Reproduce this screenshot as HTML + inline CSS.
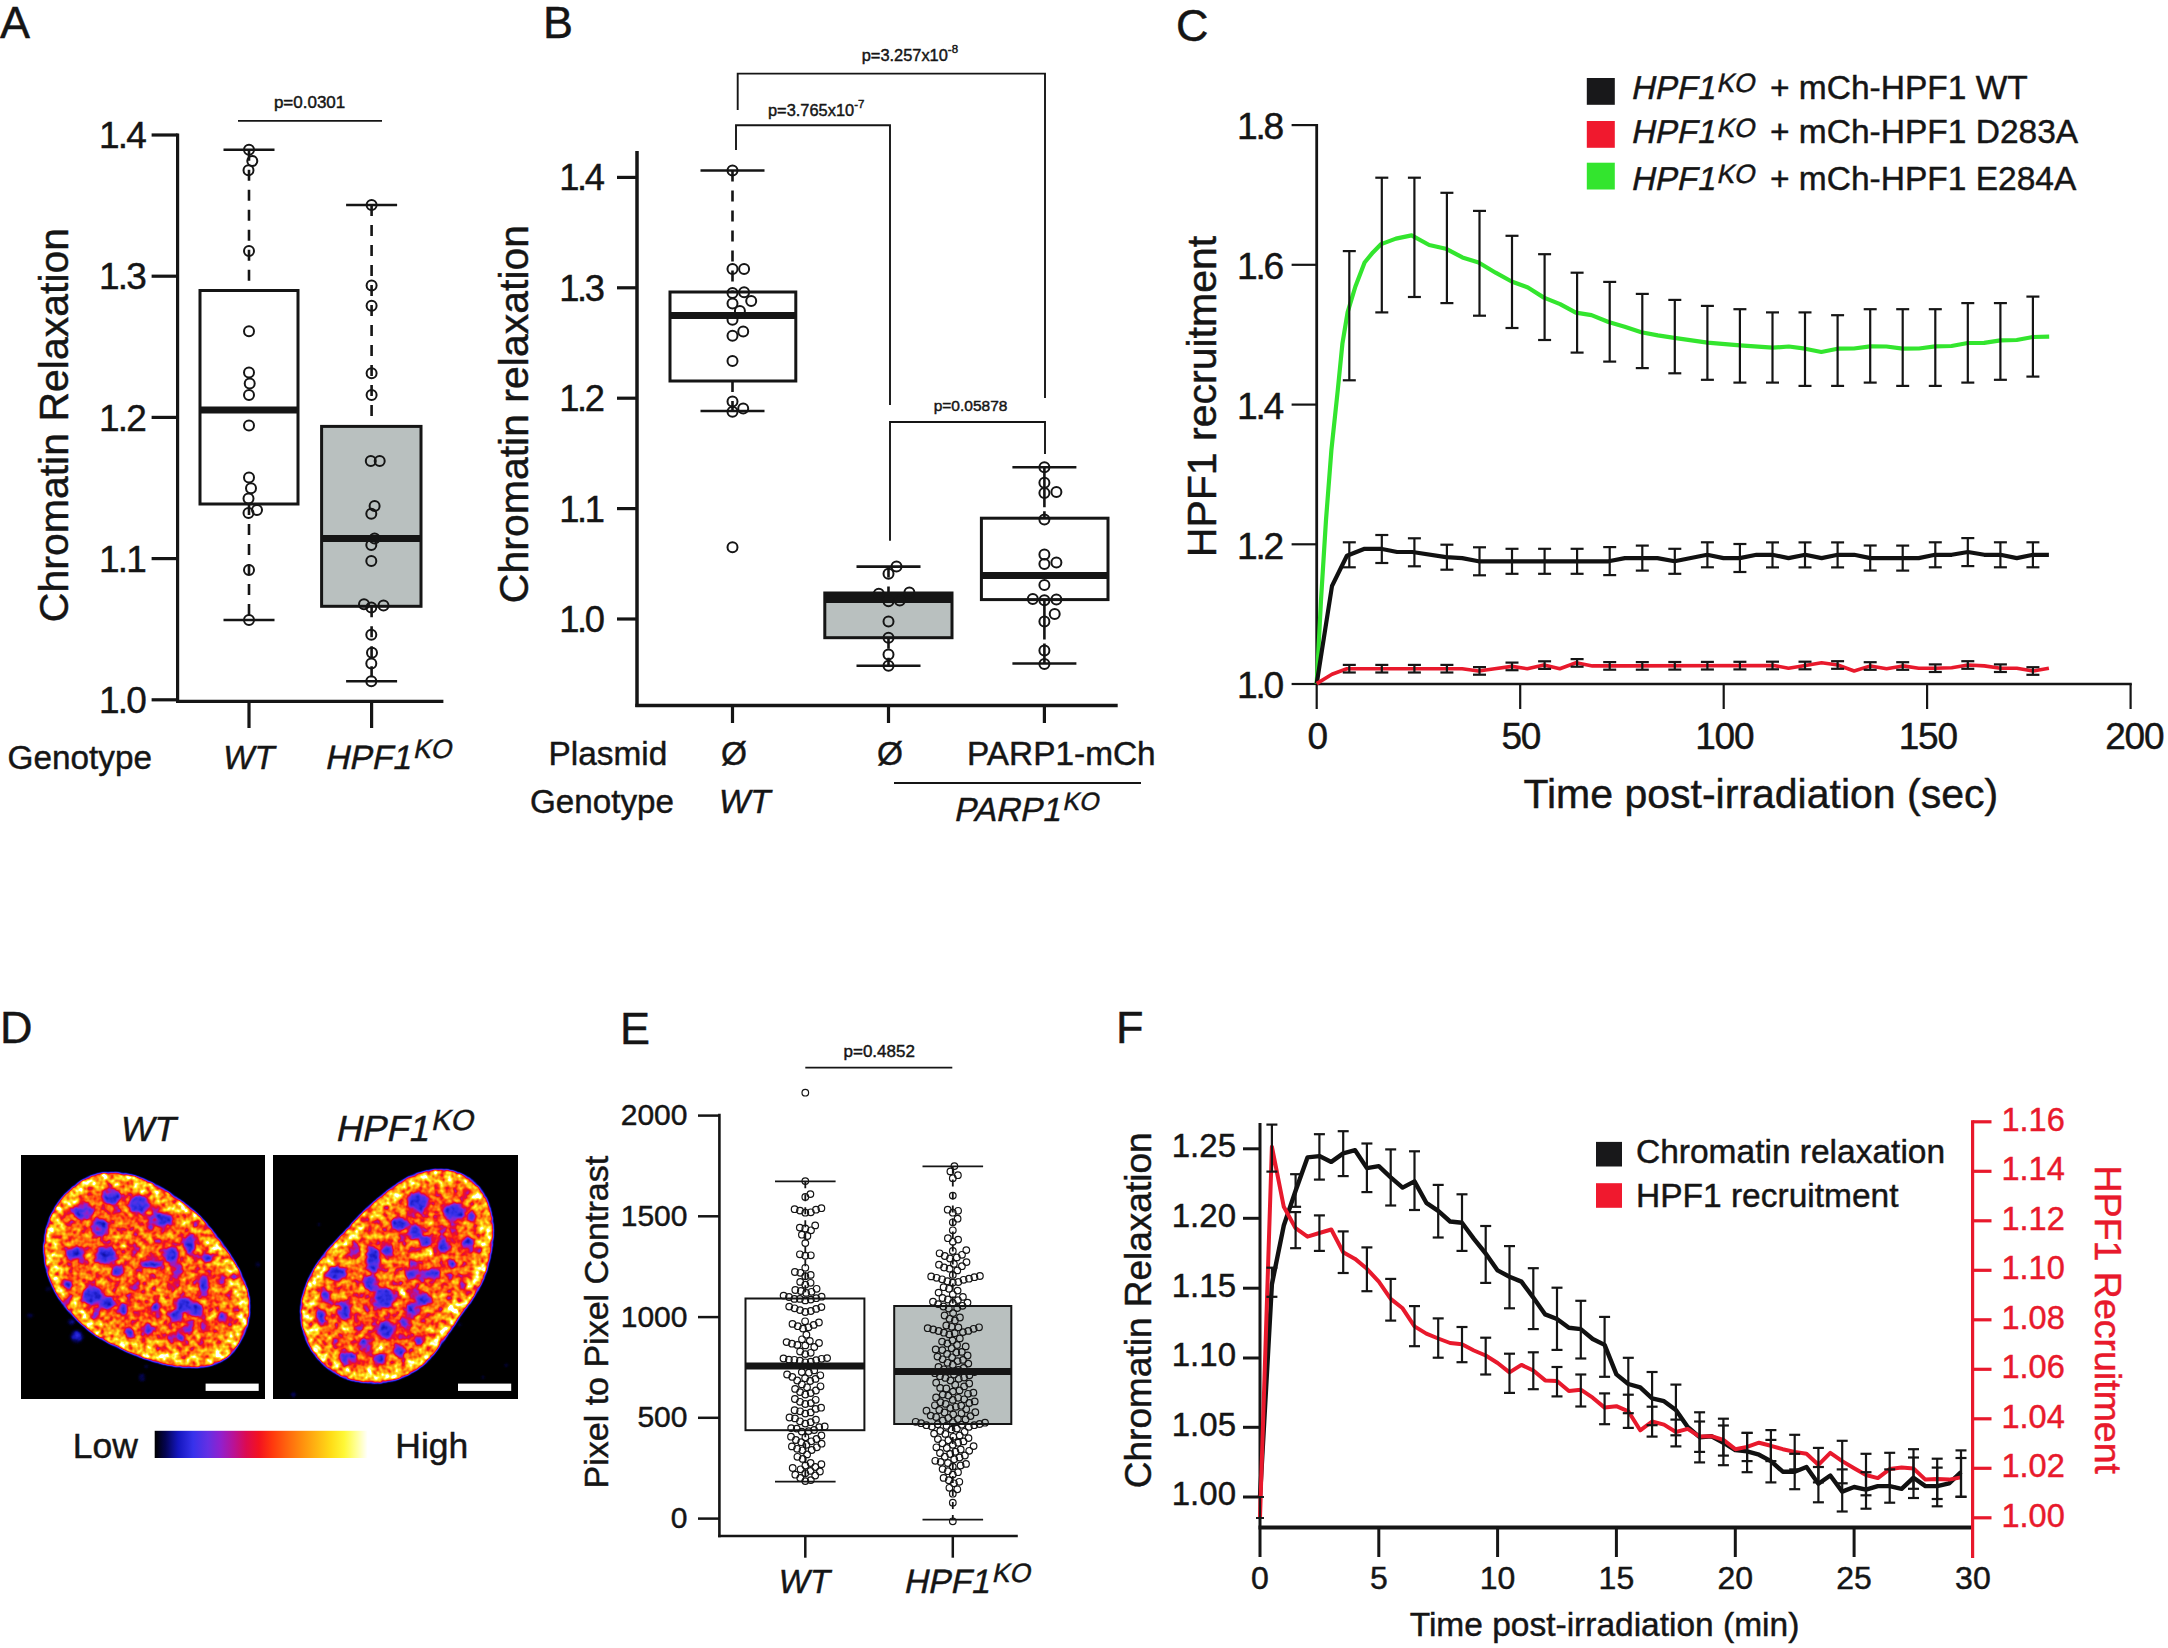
<!DOCTYPE html>
<html lang="en"><head><meta charset="utf-8"><title>Figure</title>
<style>
html,body{margin:0;padding:0;background:#fff;}
svg{display:block}
text{font-family:"Liberation Sans",sans-serif;stroke-width:0.45px;paint-order:stroke;}
</style></head><body>
<svg width="2168" height="1648" viewBox="0 0 2168 1648">
<rect width="2168" height="1648" fill="#fff"/>

<text x="0.0" y="38.2" font-size="45" text-anchor="start" fill="#151515" stroke="#151515"  >A</text>
<text x="543.0" y="38.2" font-size="45" text-anchor="start" fill="#151515" stroke="#151515"  >B</text>
<text x="1176.0" y="41.0" font-size="45" text-anchor="start" fill="#151515" stroke="#151515"  >C</text>
<text x="0.0" y="1042.5" font-size="45" text-anchor="start" fill="#151515" stroke="#151515"  >D</text>
<text x="620.0" y="1043.6" font-size="45" text-anchor="start" fill="#151515" stroke="#151515"  >E</text>
<text x="1116.0" y="1043.3" font-size="45" text-anchor="start" fill="#151515" stroke="#151515"  >F</text>
<g id="panelA">
<line x1="177.6" y1="133.5" x2="177.6" y2="703.0" stroke="#151515" stroke-width="3.2" />
<line x1="176.0" y1="701.4" x2="443.4" y2="701.4" stroke="#151515" stroke-width="3.2" />
<line x1="151.6" y1="699.8" x2="177.6" y2="699.8" stroke="#151515" stroke-width="3.2" />
<text x="145.0" y="713.0" font-size="37" text-anchor="end" fill="#151515" stroke="#151515"   letter-spacing="-1.8">1.0</text>
<line x1="151.6" y1="558.6" x2="177.6" y2="558.6" stroke="#151515" stroke-width="3.2" />
<text x="145.0" y="571.8" font-size="37" text-anchor="end" fill="#151515" stroke="#151515"   letter-spacing="-1.8">1.1</text>
<line x1="151.6" y1="417.4" x2="177.6" y2="417.4" stroke="#151515" stroke-width="3.2" />
<text x="145.0" y="430.6" font-size="37" text-anchor="end" fill="#151515" stroke="#151515"   letter-spacing="-1.8">1.2</text>
<line x1="151.6" y1="276.2" x2="177.6" y2="276.2" stroke="#151515" stroke-width="3.2" />
<text x="145.0" y="289.4" font-size="37" text-anchor="end" fill="#151515" stroke="#151515"   letter-spacing="-1.8">1.3</text>
<line x1="151.6" y1="135.0" x2="177.6" y2="135.0" stroke="#151515" stroke-width="3.2" />
<text x="145.0" y="148.2" font-size="37" text-anchor="end" fill="#151515" stroke="#151515"   letter-spacing="-1.8">1.4</text>
<line x1="249.0" y1="701.0" x2="249.0" y2="728.0" stroke="#151515" stroke-width="3.2" />
<line x1="371.6" y1="701.0" x2="371.6" y2="728.0" stroke="#151515" stroke-width="3.2" />
<line x1="249.0" y1="149.8" x2="249.0" y2="290.5" stroke="#151515" stroke-width="2.6" stroke-dasharray="11 9"/>
<line x1="249.0" y1="504.0" x2="249.0" y2="620.0" stroke="#151515" stroke-width="2.6" stroke-dasharray="11 9"/>
<line x1="223.5" y1="149.8" x2="274.5" y2="149.8" stroke="#151515" stroke-width="2.6" />
<line x1="223.5" y1="620.0" x2="274.5" y2="620.0" stroke="#151515" stroke-width="2.6" />
<rect x="200.0" y="290.5" width="98.0" height="213.5" fill="#fff" stroke="#151515" stroke-width="3"/>
<line x1="200.0" y1="410.0" x2="298.0" y2="410.0" stroke="#151515" stroke-width="7" />
<line x1="371.6" y1="205.0" x2="371.6" y2="426.4" stroke="#151515" stroke-width="2.6" stroke-dasharray="11 9"/>
<line x1="371.6" y1="606.3" x2="371.6" y2="681.2" stroke="#151515" stroke-width="2.6" stroke-dasharray="11 9"/>
<line x1="346.1" y1="205.0" x2="397.1" y2="205.0" stroke="#151515" stroke-width="2.6" />
<line x1="346.1" y1="681.2" x2="397.1" y2="681.2" stroke="#151515" stroke-width="2.6" />
<rect x="321.6" y="426.4" width="99.4" height="179.9" fill="#b9c0bf" stroke="#151515" stroke-width="3"/>
<line x1="321.6" y1="538.5" x2="421.0" y2="538.5" stroke="#151515" stroke-width="7" />
<circle cx="249.0" cy="149.8" r="5.0" fill="none" stroke="#151515" stroke-width="2.0"/>
<circle cx="252.3" cy="161.0" r="5.0" fill="none" stroke="#151515" stroke-width="2.0"/>
<circle cx="248.5" cy="170.2" r="5.0" fill="none" stroke="#151515" stroke-width="2.0"/>
<circle cx="249.0" cy="251.0" r="5.0" fill="none" stroke="#151515" stroke-width="2.0"/>
<circle cx="249.0" cy="331.3" r="5.0" fill="none" stroke="#151515" stroke-width="2.0"/>
<circle cx="249.0" cy="372.6" r="5.0" fill="none" stroke="#151515" stroke-width="2.0"/>
<circle cx="249.7" cy="383.5" r="5.0" fill="none" stroke="#151515" stroke-width="2.0"/>
<circle cx="249.0" cy="395.0" r="5.0" fill="none" stroke="#151515" stroke-width="2.0"/>
<circle cx="249.0" cy="425.4" r="5.0" fill="none" stroke="#151515" stroke-width="2.0"/>
<circle cx="249.0" cy="477.6" r="5.0" fill="none" stroke="#151515" stroke-width="2.0"/>
<circle cx="251.0" cy="488.3" r="5.0" fill="none" stroke="#151515" stroke-width="2.0"/>
<circle cx="248.5" cy="498.5" r="5.0" fill="none" stroke="#151515" stroke-width="2.0"/>
<circle cx="257.0" cy="510.0" r="5.0" fill="none" stroke="#151515" stroke-width="2.0"/>
<circle cx="248.5" cy="513.0" r="5.0" fill="none" stroke="#151515" stroke-width="2.0"/>
<circle cx="249.0" cy="569.9" r="5.0" fill="none" stroke="#151515" stroke-width="2.0"/>
<circle cx="249.0" cy="620.0" r="5.0" fill="none" stroke="#151515" stroke-width="2.0"/>
<circle cx="371.6" cy="205.1" r="5.0" fill="none" stroke="#151515" stroke-width="2.0"/>
<circle cx="371.6" cy="285.4" r="5.0" fill="none" stroke="#151515" stroke-width="2.0"/>
<circle cx="371.6" cy="305.8" r="5.0" fill="none" stroke="#151515" stroke-width="2.0"/>
<circle cx="371.6" cy="373.3" r="5.0" fill="none" stroke="#151515" stroke-width="2.0"/>
<circle cx="371.6" cy="395.0" r="5.0" fill="none" stroke="#151515" stroke-width="2.0"/>
<circle cx="370.8" cy="461.0" r="5.0" fill="none" stroke="#151515" stroke-width="2.0"/>
<circle cx="379.7" cy="461.0" r="5.0" fill="none" stroke="#151515" stroke-width="2.0"/>
<circle cx="374.6" cy="506.1" r="5.0" fill="none" stroke="#151515" stroke-width="2.0"/>
<circle cx="371.3" cy="513.8" r="5.0" fill="none" stroke="#151515" stroke-width="2.0"/>
<circle cx="374.6" cy="538.5" r="5.0" fill="none" stroke="#151515" stroke-width="2.0"/>
<circle cx="371.3" cy="545.0" r="5.0" fill="none" stroke="#151515" stroke-width="2.0"/>
<circle cx="371.3" cy="561.0" r="5.0" fill="none" stroke="#151515" stroke-width="2.0"/>
<circle cx="364.0" cy="604.3" r="5.0" fill="none" stroke="#151515" stroke-width="2.0"/>
<circle cx="371.3" cy="607.6" r="5.0" fill="none" stroke="#151515" stroke-width="2.0"/>
<circle cx="383.5" cy="605.5" r="5.0" fill="none" stroke="#151515" stroke-width="2.0"/>
<circle cx="371.3" cy="634.8" r="5.0" fill="none" stroke="#151515" stroke-width="2.0"/>
<circle cx="372.0" cy="652.7" r="5.0" fill="none" stroke="#151515" stroke-width="2.0"/>
<circle cx="371.3" cy="663.4" r="5.0" fill="none" stroke="#151515" stroke-width="2.0"/>
<circle cx="371.3" cy="681.2" r="5.0" fill="none" stroke="#151515" stroke-width="2.0"/>
<text x="309.6" y="108.3" font-size="17" text-anchor="middle" fill="#151515" stroke="#151515"  >p=0.0301</text>
<line x1="238.0" y1="120.8" x2="382.0" y2="120.8" stroke="#151515" stroke-width="1.8" />
<text transform="translate(68.3,425.0) rotate(-90)" font-size="41" text-anchor="middle" fill="#151515" stroke="#151515">Chromatin Relaxation</text>
<text x="7.6" y="768.6" font-size="33.3" text-anchor="start" fill="#151515" stroke="#151515"  >Genotype</text>
<text x="249.0" y="768.6" font-size="33" text-anchor="middle" fill="#151515" stroke="#151515" font-style="italic" >WT</text>
<g transform="translate(324.5,768.6) skewX(-12)"><text x="0" y="0" font-size="33.7" fill="#151515" stroke="#151515">HPF1<tspan dx="0.0" dy="-10.4" font-size="26.6">KO</tspan></text></g>
</g>
<g id="panelB">
<line x1="637.0" y1="151.0" x2="637.0" y2="707.0" stroke="#151515" stroke-width="3.5" />
<line x1="635.3" y1="705.5" x2="1117.7" y2="705.5" stroke="#151515" stroke-width="3.5" />
<line x1="617.0" y1="619.0" x2="637.0" y2="619.0" stroke="#151515" stroke-width="3.2" />
<text x="602.5" y="632.0" font-size="36.3" text-anchor="end" fill="#151515" stroke="#151515"   letter-spacing="-2.4">1.0</text>
<line x1="617.0" y1="508.6" x2="637.0" y2="508.6" stroke="#151515" stroke-width="3.2" />
<text x="602.5" y="521.6" font-size="36.3" text-anchor="end" fill="#151515" stroke="#151515"   letter-spacing="-2.4">1.1</text>
<line x1="617.0" y1="398.2" x2="637.0" y2="398.2" stroke="#151515" stroke-width="3.2" />
<text x="602.5" y="411.2" font-size="36.3" text-anchor="end" fill="#151515" stroke="#151515"   letter-spacing="-2.4">1.2</text>
<line x1="617.0" y1="287.8" x2="637.0" y2="287.8" stroke="#151515" stroke-width="3.2" />
<text x="602.5" y="300.8" font-size="36.3" text-anchor="end" fill="#151515" stroke="#151515"   letter-spacing="-2.4">1.3</text>
<line x1="617.0" y1="177.4" x2="637.0" y2="177.4" stroke="#151515" stroke-width="3.2" />
<text x="602.5" y="190.4" font-size="36.3" text-anchor="end" fill="#151515" stroke="#151515"   letter-spacing="-2.4">1.4</text>
<line x1="732.5" y1="705.5" x2="732.5" y2="723.0" stroke="#151515" stroke-width="3.2" />
<line x1="888.5" y1="705.5" x2="888.5" y2="723.0" stroke="#151515" stroke-width="3.2" />
<line x1="1044.4" y1="705.5" x2="1044.4" y2="723.0" stroke="#151515" stroke-width="3.2" />
<line x1="732.5" y1="170.5" x2="732.5" y2="292.0" stroke="#151515" stroke-width="2.6" stroke-dasharray="11 9"/>
<line x1="732.5" y1="381.0" x2="732.5" y2="411.0" stroke="#151515" stroke-width="2.6" stroke-dasharray="11 9"/>
<line x1="700.5" y1="170.5" x2="764.5" y2="170.5" stroke="#151515" stroke-width="2.6" />
<line x1="700.5" y1="411.0" x2="764.5" y2="411.0" stroke="#151515" stroke-width="2.6" />
<rect x="670.0" y="292.0" width="125.8" height="89.0" fill="#fff" stroke="#151515" stroke-width="3"/>
<line x1="670.0" y1="315.5" x2="795.8" y2="315.5" stroke="#151515" stroke-width="7" />
<line x1="888.5" y1="566.6" x2="888.5" y2="593.0" stroke="#151515" stroke-width="2.6" stroke-dasharray="11 9"/>
<line x1="888.5" y1="637.7" x2="888.5" y2="665.8" stroke="#151515" stroke-width="2.6" stroke-dasharray="11 9"/>
<line x1="856.5" y1="566.6" x2="920.5" y2="566.6" stroke="#151515" stroke-width="2.6" />
<line x1="856.5" y1="665.8" x2="920.5" y2="665.8" stroke="#151515" stroke-width="2.6" />
<rect x="824.8" y="593.0" width="127.2" height="44.7" fill="#b9c0bf" stroke="#151515" stroke-width="3"/>
<line x1="824.8" y1="598.5" x2="952.0" y2="598.5" stroke="#151515" stroke-width="9" />
<line x1="1044.4" y1="467.2" x2="1044.4" y2="518.2" stroke="#151515" stroke-width="2.6" stroke-dasharray="40 4"/>
<line x1="1044.4" y1="599.6" x2="1044.4" y2="663.5" stroke="#151515" stroke-width="2.6" stroke-dasharray="40 4"/>
<line x1="1012.4" y1="467.2" x2="1076.4" y2="467.2" stroke="#151515" stroke-width="2.6" />
<line x1="1012.4" y1="663.5" x2="1076.4" y2="663.5" stroke="#151515" stroke-width="2.6" />
<rect x="981.4" y="518.2" width="126.6" height="81.4" fill="#fff" stroke="#151515" stroke-width="3"/>
<line x1="981.4" y1="575.4" x2="1108.0" y2="575.4" stroke="#151515" stroke-width="7" />
<circle cx="732.5" cy="170.5" r="5.0" fill="none" stroke="#151515" stroke-width="2.0"/>
<circle cx="732.5" cy="269.0" r="5.0" fill="none" stroke="#151515" stroke-width="2.0"/>
<circle cx="744.1" cy="269.0" r="5.0" fill="none" stroke="#151515" stroke-width="2.0"/>
<circle cx="732.5" cy="292.9" r="5.0" fill="none" stroke="#151515" stroke-width="2.0"/>
<circle cx="744.1" cy="292.2" r="5.0" fill="none" stroke="#151515" stroke-width="2.0"/>
<circle cx="751.2" cy="301.0" r="5.0" fill="none" stroke="#151515" stroke-width="2.0"/>
<circle cx="732.5" cy="303.5" r="5.0" fill="none" stroke="#151515" stroke-width="2.0"/>
<circle cx="739.9" cy="311.0" r="5.0" fill="none" stroke="#151515" stroke-width="2.0"/>
<circle cx="732.5" cy="319.7" r="5.0" fill="none" stroke="#151515" stroke-width="2.0"/>
<circle cx="743.2" cy="331.6" r="5.0" fill="none" stroke="#151515" stroke-width="2.0"/>
<circle cx="732.5" cy="335.8" r="5.0" fill="none" stroke="#151515" stroke-width="2.0"/>
<circle cx="732.5" cy="361.0" r="5.0" fill="none" stroke="#151515" stroke-width="2.0"/>
<circle cx="732.5" cy="401.4" r="5.0" fill="none" stroke="#151515" stroke-width="2.0"/>
<circle cx="743.2" cy="408.5" r="5.0" fill="none" stroke="#151515" stroke-width="2.0"/>
<circle cx="732.5" cy="411.7" r="5.0" fill="none" stroke="#151515" stroke-width="2.0"/>
<circle cx="732.5" cy="547.3" r="5.0" fill="none" stroke="#151515" stroke-width="2.0"/>
<circle cx="896.5" cy="566.6" r="5.0" fill="none" stroke="#151515" stroke-width="2.0"/>
<circle cx="888.5" cy="573.7" r="5.0" fill="none" stroke="#151515" stroke-width="2.0"/>
<circle cx="878.8" cy="593.8" r="5.0" fill="none" stroke="#151515" stroke-width="2.0"/>
<circle cx="909.4" cy="592.5" r="5.0" fill="none" stroke="#151515" stroke-width="2.0"/>
<circle cx="888.5" cy="601.2" r="5.0" fill="none" stroke="#151515" stroke-width="2.0"/>
<circle cx="899.8" cy="600.5" r="5.0" fill="none" stroke="#151515" stroke-width="2.0"/>
<circle cx="888.5" cy="621.5" r="5.0" fill="none" stroke="#151515" stroke-width="2.0"/>
<circle cx="888.5" cy="637.7" r="5.0" fill="none" stroke="#151515" stroke-width="2.0"/>
<circle cx="888.5" cy="654.5" r="5.0" fill="none" stroke="#151515" stroke-width="2.0"/>
<circle cx="888.5" cy="665.8" r="5.0" fill="none" stroke="#151515" stroke-width="2.0"/>
<circle cx="1044.4" cy="467.2" r="5.0" fill="none" stroke="#151515" stroke-width="2.0"/>
<circle cx="1044.4" cy="482.7" r="5.0" fill="none" stroke="#151515" stroke-width="2.0"/>
<circle cx="1044.4" cy="493.0" r="5.0" fill="none" stroke="#151515" stroke-width="2.0"/>
<circle cx="1056.4" cy="492.0" r="5.0" fill="none" stroke="#151515" stroke-width="2.0"/>
<circle cx="1044.4" cy="519.5" r="5.0" fill="none" stroke="#151515" stroke-width="2.0"/>
<circle cx="1044.4" cy="554.4" r="5.0" fill="none" stroke="#151515" stroke-width="2.0"/>
<circle cx="1044.4" cy="564.0" r="5.0" fill="none" stroke="#151515" stroke-width="2.0"/>
<circle cx="1056.4" cy="562.4" r="5.0" fill="none" stroke="#151515" stroke-width="2.0"/>
<circle cx="1044.4" cy="585.0" r="5.0" fill="none" stroke="#151515" stroke-width="2.0"/>
<circle cx="1032.8" cy="598.9" r="5.0" fill="none" stroke="#151515" stroke-width="2.0"/>
<circle cx="1044.4" cy="600.2" r="5.0" fill="none" stroke="#151515" stroke-width="2.0"/>
<circle cx="1056.4" cy="599.6" r="5.0" fill="none" stroke="#151515" stroke-width="2.0"/>
<circle cx="1054.7" cy="614.1" r="5.0" fill="none" stroke="#151515" stroke-width="2.0"/>
<circle cx="1044.4" cy="621.5" r="5.0" fill="none" stroke="#151515" stroke-width="2.0"/>
<circle cx="1044.4" cy="650.6" r="5.0" fill="none" stroke="#151515" stroke-width="2.0"/>
<circle cx="1044.4" cy="664.1" r="5.0" fill="none" stroke="#151515" stroke-width="2.0"/>
<polyline fill="none" stroke="#151515" stroke-width="1.9" points="736.0,150.0 736.0,125.3 890.0,125.3 890.0,405.0"/>
<polyline fill="none" stroke="#151515" stroke-width="1.9" points="737.7,110.0 737.7,73.6 1045.0,73.6 1045.0,398.0"/>
<polyline fill="none" stroke="#151515" stroke-width="1.9" points="890.0,540.8 890.0,422.0 1045.0,422.0 1045.0,454.0"/>
<text x="861.7" y="61.4" font-size="16.4" fill="#151515" stroke="#151515">p=3.257x10<tspan dy="-8" font-size="11.5">-8</tspan></text>
<text x="768.0" y="116.0" font-size="16.4" fill="#151515" stroke="#151515">p=3.765x10<tspan dy="-8" font-size="11.5">-7</tspan></text>
<text x="933.7" y="410.7" font-size="15.5" text-anchor="start" fill="#151515" stroke="#151515"  >p=0.05878</text>
<text transform="translate(528.0,414.0) rotate(-90)" font-size="41" text-anchor="middle" fill="#151515" stroke="#151515">Chromatin relaxation</text>
<text x="548.5" y="765.0" font-size="33.4" text-anchor="start" fill="#151515" stroke="#151515"  >Plasmid</text>
<text x="734.0" y="765.0" font-size="33.4" text-anchor="middle" fill="#151515" stroke="#151515"  >Ø</text>
<text x="890.0" y="765.0" font-size="33.4" text-anchor="middle" fill="#151515" stroke="#151515"  >Ø</text>
<text x="967.0" y="765.0" font-size="33.4" text-anchor="start" fill="#151515" stroke="#151515"  >PARP1-mCh</text>
<line x1="894.0" y1="783.0" x2="1141.0" y2="783.0" stroke="#151515" stroke-width="1.9" />
<text x="530.0" y="812.7" font-size="33.2" text-anchor="start" fill="#151515" stroke="#151515"  >Genotype</text>
<text x="744.8" y="812.7" font-size="33.3" text-anchor="middle" fill="#151515" stroke="#151515" font-style="italic" >WT</text>
<g transform="translate(953.5,820.7) skewX(-12)"><text x="0" y="0" font-size="33.3" fill="#151515" stroke="#151515">PARP1<tspan dx="0.0" dy="-10.3" font-size="25.0">KO</tspan></text></g>
</g>
<g id="panelC">
<line x1="1316.7" y1="123.9" x2="1316.7" y2="685.0" stroke="#151515" stroke-width="2.8" />
<line x1="1316.7" y1="684.0" x2="2131.8" y2="684.0" stroke="#151515" stroke-width="2.4" />
<line x1="1291.6" y1="684.0" x2="1316.7" y2="684.0" stroke="#151515" stroke-width="2.2" />
<text x="1281.8" y="698.2" font-size="37.2" text-anchor="end" fill="#151515" stroke="#151515"   letter-spacing="-2.3">1.0</text>
<line x1="1291.6" y1="544.3" x2="1316.7" y2="544.3" stroke="#151515" stroke-width="2.2" />
<text x="1281.8" y="558.5" font-size="37.2" text-anchor="end" fill="#151515" stroke="#151515"   letter-spacing="-2.3">1.2</text>
<line x1="1291.6" y1="404.6" x2="1316.7" y2="404.6" stroke="#151515" stroke-width="2.2" />
<text x="1281.8" y="418.8" font-size="37.2" text-anchor="end" fill="#151515" stroke="#151515"   letter-spacing="-2.3">1.4</text>
<line x1="1291.6" y1="264.8" x2="1316.7" y2="264.8" stroke="#151515" stroke-width="2.2" />
<text x="1281.8" y="279.0" font-size="37.2" text-anchor="end" fill="#151515" stroke="#151515"   letter-spacing="-2.3">1.6</text>
<line x1="1291.6" y1="125.1" x2="1316.7" y2="125.1" stroke="#151515" stroke-width="2.2" />
<text x="1281.8" y="139.3" font-size="37.2" text-anchor="end" fill="#151515" stroke="#151515"   letter-spacing="-2.3">1.8</text>
<line x1="1316.7" y1="684.0" x2="1316.7" y2="709.0" stroke="#151515" stroke-width="2.2" />
<text x="1317.3" y="749.0" font-size="37" text-anchor="middle" fill="#151515" stroke="#151515"   letter-spacing="-1.2">0</text>
<line x1="1520.2" y1="684.0" x2="1520.2" y2="709.0" stroke="#151515" stroke-width="2.2" />
<text x="1520.8" y="749.0" font-size="37" text-anchor="middle" fill="#151515" stroke="#151515"   letter-spacing="-1.2">50</text>
<line x1="1723.7" y1="684.0" x2="1723.7" y2="709.0" stroke="#151515" stroke-width="2.2" />
<text x="1724.2" y="749.0" font-size="37" text-anchor="middle" fill="#151515" stroke="#151515"   letter-spacing="-1.2">100</text>
<line x1="1927.1" y1="684.0" x2="1927.1" y2="709.0" stroke="#151515" stroke-width="2.2" />
<text x="1927.7" y="749.0" font-size="37" text-anchor="middle" fill="#151515" stroke="#151515"   letter-spacing="-1.2">150</text>
<line x1="2130.6" y1="684.0" x2="2130.6" y2="709.0" stroke="#151515" stroke-width="2.2" />
<text x="2134.2" y="749.0" font-size="37" text-anchor="middle" fill="#151515" stroke="#151515"   letter-spacing="-1.2">200</text>
<text x="1760.8" y="808.0" font-size="41" text-anchor="middle" fill="#151515" stroke="#151515"  >Time post-irradiation (sec)</text>
<text transform="translate(1215.8,396.5) rotate(-90)" font-size="41" text-anchor="middle" fill="#151515" stroke="#151515">HPF1 recruitment</text>
<rect x="1586.8" y="78" width="28" height="26.8" fill="#18181a"/>
<rect x="1586.8" y="121" width="28" height="26.8" fill="#f0192e"/>
<rect x="1586.8" y="162.7" width="28" height="26.8" fill="#33e52e"/>
<g transform="translate(1630.5,98.6) skewX(-12)"><text x="0" y="0" font-size="33" fill="#151515" stroke="#151515">HPF1<tspan dx="0.0" dy="-6.6" font-size="26.4">KO</tspan></text></g>
<text x="1770.0" y="98.6" font-size="33.5" text-anchor="start" fill="#151515" stroke="#151515"  >+ mCh-HPF1 WT</text>
<g transform="translate(1630.5,143.2) skewX(-12)"><text x="0" y="0" font-size="33" fill="#151515" stroke="#151515">HPF1<tspan dx="0.0" dy="-6.6" font-size="26.4">KO</tspan></text></g>
<text x="1770.0" y="143.2" font-size="33.5" text-anchor="start" fill="#151515" stroke="#151515"  >+ mCh-HPF1 D283A</text>
<g transform="translate(1630.5,189.7) skewX(-12)"><text x="0" y="0" font-size="33" fill="#151515" stroke="#151515">HPF1<tspan dx="0.0" dy="-6.6" font-size="26.4">KO</tspan></text></g>
<text x="1770.0" y="189.7" font-size="33.5" text-anchor="start" fill="#151515" stroke="#151515"  >+ mCh-HPF1 E284A</text>
<polyline fill="none" stroke="#33e52e" stroke-width="4.2" stroke-linejoin="round" stroke-linecap="butt" points="1316.7,684.0 1321.0,600.0 1326.0,520.0 1331.4,450.0 1337.8,389.9 1342.4,343.7 1347.6,312.4 1355.4,286.5 1364.6,262.5 1372.9,252.4 1381.2,244.1 1395.9,238.6 1411.6,235.4 1429.2,245.0 1445.8,248.7 1462.4,257.4 1478.6,262.5 1495.6,272.7 1511.6,281.5 1527.9,287.5 1543.9,297.6 1560.1,304.1 1575.8,312.7 1591.5,315.1 1608.5,322.0 1624.7,326.8 1641.3,332.3 1657.9,335.4 1674.2,337.8 1707.4,342.6 1739.9,345.4 1772.5,347.7 1788.8,346.5 1805.0,348.7 1821.3,352.0 1837.6,348.7 1853.9,348.5 1870.2,346.4 1886.4,346.5 1902.7,348.7 1919.0,348.5 1935.3,346.4 1951.5,346.0 1967.8,343.0 1984.1,342.8 2000.4,340.3 2016.7,340.0 2032.9,337.0 2049.2,336.6"/>
<line x1="1349.3" y1="251.1" x2="1349.3" y2="380.3" stroke="#151515" stroke-width="2.2" />
<line x1="1342.8" y1="251.1" x2="1355.8" y2="251.1" stroke="#151515" stroke-width="2.2" />
<line x1="1342.8" y1="380.3" x2="1355.8" y2="380.3" stroke="#151515" stroke-width="2.2" />
<line x1="1381.8" y1="177.7" x2="1381.8" y2="312.4" stroke="#151515" stroke-width="2.2" />
<line x1="1375.3" y1="177.7" x2="1388.3" y2="177.7" stroke="#151515" stroke-width="2.2" />
<line x1="1375.3" y1="312.4" x2="1388.3" y2="312.4" stroke="#151515" stroke-width="2.2" />
<line x1="1414.4" y1="177.7" x2="1414.4" y2="297.0" stroke="#151515" stroke-width="2.2" />
<line x1="1407.9" y1="177.7" x2="1420.9" y2="177.7" stroke="#151515" stroke-width="2.2" />
<line x1="1407.9" y1="297.0" x2="1420.9" y2="297.0" stroke="#151515" stroke-width="2.2" />
<line x1="1446.9" y1="192.8" x2="1446.9" y2="303.1" stroke="#151515" stroke-width="2.2" />
<line x1="1440.4" y1="192.8" x2="1453.4" y2="192.8" stroke="#151515" stroke-width="2.2" />
<line x1="1440.4" y1="303.1" x2="1453.4" y2="303.1" stroke="#151515" stroke-width="2.2" />
<line x1="1479.5" y1="210.9" x2="1479.5" y2="315.7" stroke="#151515" stroke-width="2.2" />
<line x1="1473.0" y1="210.9" x2="1486.0" y2="210.9" stroke="#151515" stroke-width="2.2" />
<line x1="1473.0" y1="315.7" x2="1486.0" y2="315.7" stroke="#151515" stroke-width="2.2" />
<line x1="1512.0" y1="235.8" x2="1512.0" y2="328.0" stroke="#151515" stroke-width="2.2" />
<line x1="1505.5" y1="235.8" x2="1518.5" y2="235.8" stroke="#151515" stroke-width="2.2" />
<line x1="1505.5" y1="328.0" x2="1518.5" y2="328.0" stroke="#151515" stroke-width="2.2" />
<line x1="1544.6" y1="254.2" x2="1544.6" y2="340.0" stroke="#151515" stroke-width="2.2" />
<line x1="1538.1" y1="254.2" x2="1551.1" y2="254.2" stroke="#151515" stroke-width="2.2" />
<line x1="1538.1" y1="340.0" x2="1551.1" y2="340.0" stroke="#151515" stroke-width="2.2" />
<line x1="1577.1" y1="272.7" x2="1577.1" y2="352.6" stroke="#151515" stroke-width="2.2" />
<line x1="1570.6" y1="272.7" x2="1583.6" y2="272.7" stroke="#151515" stroke-width="2.2" />
<line x1="1570.6" y1="352.6" x2="1583.6" y2="352.6" stroke="#151515" stroke-width="2.2" />
<line x1="1609.7" y1="281.9" x2="1609.7" y2="361.6" stroke="#151515" stroke-width="2.2" />
<line x1="1603.2" y1="281.9" x2="1616.2" y2="281.9" stroke="#151515" stroke-width="2.2" />
<line x1="1603.2" y1="361.6" x2="1616.2" y2="361.6" stroke="#151515" stroke-width="2.2" />
<line x1="1642.3" y1="293.9" x2="1642.3" y2="368.1" stroke="#151515" stroke-width="2.2" />
<line x1="1635.8" y1="293.9" x2="1648.8" y2="293.9" stroke="#151515" stroke-width="2.2" />
<line x1="1635.8" y1="368.1" x2="1648.8" y2="368.1" stroke="#151515" stroke-width="2.2" />
<line x1="1674.8" y1="299.9" x2="1674.8" y2="373.3" stroke="#151515" stroke-width="2.2" />
<line x1="1668.3" y1="299.9" x2="1681.3" y2="299.9" stroke="#151515" stroke-width="2.2" />
<line x1="1668.3" y1="373.3" x2="1681.3" y2="373.3" stroke="#151515" stroke-width="2.2" />
<line x1="1707.4" y1="305.9" x2="1707.4" y2="379.8" stroke="#151515" stroke-width="2.2" />
<line x1="1700.9" y1="305.9" x2="1713.9" y2="305.9" stroke="#151515" stroke-width="2.2" />
<line x1="1700.9" y1="379.8" x2="1713.9" y2="379.8" stroke="#151515" stroke-width="2.2" />
<line x1="1739.9" y1="309.2" x2="1739.9" y2="382.6" stroke="#151515" stroke-width="2.2" />
<line x1="1733.4" y1="309.2" x2="1746.4" y2="309.2" stroke="#151515" stroke-width="2.2" />
<line x1="1733.4" y1="382.6" x2="1746.4" y2="382.6" stroke="#151515" stroke-width="2.2" />
<line x1="1772.5" y1="312.4" x2="1772.5" y2="382.6" stroke="#151515" stroke-width="2.2" />
<line x1="1766.0" y1="312.4" x2="1779.0" y2="312.4" stroke="#151515" stroke-width="2.2" />
<line x1="1766.0" y1="382.6" x2="1779.0" y2="382.6" stroke="#151515" stroke-width="2.2" />
<line x1="1805.0" y1="312.4" x2="1805.0" y2="385.9" stroke="#151515" stroke-width="2.2" />
<line x1="1798.5" y1="312.4" x2="1811.5" y2="312.4" stroke="#151515" stroke-width="2.2" />
<line x1="1798.5" y1="385.9" x2="1811.5" y2="385.9" stroke="#151515" stroke-width="2.2" />
<line x1="1837.6" y1="315.2" x2="1837.6" y2="385.9" stroke="#151515" stroke-width="2.2" />
<line x1="1831.1" y1="315.2" x2="1844.1" y2="315.2" stroke="#151515" stroke-width="2.2" />
<line x1="1831.1" y1="385.9" x2="1844.1" y2="385.9" stroke="#151515" stroke-width="2.2" />
<line x1="1870.2" y1="309.2" x2="1870.2" y2="382.6" stroke="#151515" stroke-width="2.2" />
<line x1="1863.7" y1="309.2" x2="1876.7" y2="309.2" stroke="#151515" stroke-width="2.2" />
<line x1="1863.7" y1="382.6" x2="1876.7" y2="382.6" stroke="#151515" stroke-width="2.2" />
<line x1="1902.7" y1="309.2" x2="1902.7" y2="385.9" stroke="#151515" stroke-width="2.2" />
<line x1="1896.2" y1="309.2" x2="1909.2" y2="309.2" stroke="#151515" stroke-width="2.2" />
<line x1="1896.2" y1="385.9" x2="1909.2" y2="385.9" stroke="#151515" stroke-width="2.2" />
<line x1="1935.3" y1="309.2" x2="1935.3" y2="385.9" stroke="#151515" stroke-width="2.2" />
<line x1="1928.8" y1="309.2" x2="1941.8" y2="309.2" stroke="#151515" stroke-width="2.2" />
<line x1="1928.8" y1="385.9" x2="1941.8" y2="385.9" stroke="#151515" stroke-width="2.2" />
<line x1="1967.8" y1="303.1" x2="1967.8" y2="382.6" stroke="#151515" stroke-width="2.2" />
<line x1="1961.3" y1="303.1" x2="1974.3" y2="303.1" stroke="#151515" stroke-width="2.2" />
<line x1="1961.3" y1="382.6" x2="1974.3" y2="382.6" stroke="#151515" stroke-width="2.2" />
<line x1="2000.4" y1="303.1" x2="2000.4" y2="379.8" stroke="#151515" stroke-width="2.2" />
<line x1="1993.9" y1="303.1" x2="2006.9" y2="303.1" stroke="#151515" stroke-width="2.2" />
<line x1="1993.9" y1="379.8" x2="2006.9" y2="379.8" stroke="#151515" stroke-width="2.2" />
<line x1="2032.9" y1="296.6" x2="2032.9" y2="376.6" stroke="#151515" stroke-width="2.2" />
<line x1="2026.4" y1="296.6" x2="2039.4" y2="296.6" stroke="#151515" stroke-width="2.2" />
<line x1="2026.4" y1="376.6" x2="2039.4" y2="376.6" stroke="#151515" stroke-width="2.2" />
<polyline fill="none" stroke="#111" stroke-width="4.2" stroke-linejoin="round" stroke-linecap="butt" points="1316.7,683.6 1332.0,586.0 1346.9,555.7 1364.6,548.8 1380.8,548.8 1397.1,552.0 1412.4,552.0 1445.9,557.1 1462.2,558.1 1478.5,561.3 1511.9,561.3 1544.0,561.3 1576.1,561.3 1608.6,561.3 1624.9,558.1 1642.1,558.1 1657.4,558.1 1674.6,561.3 1707.2,554.8 1723.5,558.1 1739.7,558.1 1756.5,554.8 1772.3,554.8 1788.5,558.1 1805.3,554.8 1821.6,558.1 1837.8,554.8 1854.1,554.8 1870.4,558.1 1902.9,558.1 1918.7,558.1 1935.0,554.8 1951.7,554.8 1968.0,552.0 1984.3,554.8 2000.5,554.8 2016.8,558.1 2033.1,554.8 2048.9,554.8"/>
<line x1="1349.3" y1="542.3" x2="1349.3" y2="567.3" stroke="#151515" stroke-width="2.2" />
<line x1="1342.8" y1="542.3" x2="1355.8" y2="542.3" stroke="#151515" stroke-width="2.2" />
<line x1="1342.8" y1="567.3" x2="1355.8" y2="567.3" stroke="#151515" stroke-width="2.2" />
<line x1="1381.8" y1="535.0" x2="1381.8" y2="563.0" stroke="#151515" stroke-width="2.2" />
<line x1="1375.3" y1="535.0" x2="1388.3" y2="535.0" stroke="#151515" stroke-width="2.2" />
<line x1="1375.3" y1="563.0" x2="1388.3" y2="563.0" stroke="#151515" stroke-width="2.2" />
<line x1="1414.4" y1="538.3" x2="1414.4" y2="566.3" stroke="#151515" stroke-width="2.2" />
<line x1="1407.9" y1="538.3" x2="1420.9" y2="538.3" stroke="#151515" stroke-width="2.2" />
<line x1="1407.9" y1="566.3" x2="1420.9" y2="566.3" stroke="#151515" stroke-width="2.2" />
<line x1="1446.9" y1="544.7" x2="1446.9" y2="569.7" stroke="#151515" stroke-width="2.2" />
<line x1="1440.4" y1="544.7" x2="1453.4" y2="544.7" stroke="#151515" stroke-width="2.2" />
<line x1="1440.4" y1="569.7" x2="1453.4" y2="569.7" stroke="#151515" stroke-width="2.2" />
<line x1="1479.5" y1="547.3" x2="1479.5" y2="575.3" stroke="#151515" stroke-width="2.2" />
<line x1="1473.0" y1="547.3" x2="1486.0" y2="547.3" stroke="#151515" stroke-width="2.2" />
<line x1="1473.0" y1="575.3" x2="1486.0" y2="575.3" stroke="#151515" stroke-width="2.2" />
<line x1="1512.0" y1="548.8" x2="1512.0" y2="573.8" stroke="#151515" stroke-width="2.2" />
<line x1="1505.5" y1="548.8" x2="1518.5" y2="548.8" stroke="#151515" stroke-width="2.2" />
<line x1="1505.5" y1="573.8" x2="1518.5" y2="573.8" stroke="#151515" stroke-width="2.2" />
<line x1="1544.6" y1="548.8" x2="1544.6" y2="573.8" stroke="#151515" stroke-width="2.2" />
<line x1="1538.1" y1="548.8" x2="1551.1" y2="548.8" stroke="#151515" stroke-width="2.2" />
<line x1="1538.1" y1="573.8" x2="1551.1" y2="573.8" stroke="#151515" stroke-width="2.2" />
<line x1="1577.1" y1="548.8" x2="1577.1" y2="573.8" stroke="#151515" stroke-width="2.2" />
<line x1="1570.6" y1="548.8" x2="1583.6" y2="548.8" stroke="#151515" stroke-width="2.2" />
<line x1="1570.6" y1="573.8" x2="1583.6" y2="573.8" stroke="#151515" stroke-width="2.2" />
<line x1="1609.7" y1="547.1" x2="1609.7" y2="575.1" stroke="#151515" stroke-width="2.2" />
<line x1="1603.2" y1="547.1" x2="1616.2" y2="547.1" stroke="#151515" stroke-width="2.2" />
<line x1="1603.2" y1="575.1" x2="1616.2" y2="575.1" stroke="#151515" stroke-width="2.2" />
<line x1="1642.3" y1="545.6" x2="1642.3" y2="570.6" stroke="#151515" stroke-width="2.2" />
<line x1="1635.8" y1="545.6" x2="1648.8" y2="545.6" stroke="#151515" stroke-width="2.2" />
<line x1="1635.8" y1="570.6" x2="1648.8" y2="570.6" stroke="#151515" stroke-width="2.2" />
<line x1="1674.8" y1="548.8" x2="1674.8" y2="573.8" stroke="#151515" stroke-width="2.2" />
<line x1="1668.3" y1="548.8" x2="1681.3" y2="548.8" stroke="#151515" stroke-width="2.2" />
<line x1="1668.3" y1="573.8" x2="1681.3" y2="573.8" stroke="#151515" stroke-width="2.2" />
<line x1="1707.4" y1="542.3" x2="1707.4" y2="567.3" stroke="#151515" stroke-width="2.2" />
<line x1="1700.9" y1="542.3" x2="1713.9" y2="542.3" stroke="#151515" stroke-width="2.2" />
<line x1="1700.9" y1="567.3" x2="1713.9" y2="567.3" stroke="#151515" stroke-width="2.2" />
<line x1="1739.9" y1="544.0" x2="1739.9" y2="572.0" stroke="#151515" stroke-width="2.2" />
<line x1="1733.4" y1="544.0" x2="1746.4" y2="544.0" stroke="#151515" stroke-width="2.2" />
<line x1="1733.4" y1="572.0" x2="1746.4" y2="572.0" stroke="#151515" stroke-width="2.2" />
<line x1="1772.5" y1="542.4" x2="1772.5" y2="567.4" stroke="#151515" stroke-width="2.2" />
<line x1="1766.0" y1="542.4" x2="1779.0" y2="542.4" stroke="#151515" stroke-width="2.2" />
<line x1="1766.0" y1="567.4" x2="1779.0" y2="567.4" stroke="#151515" stroke-width="2.2" />
<line x1="1805.0" y1="542.4" x2="1805.0" y2="567.4" stroke="#151515" stroke-width="2.2" />
<line x1="1798.5" y1="542.4" x2="1811.5" y2="542.4" stroke="#151515" stroke-width="2.2" />
<line x1="1798.5" y1="567.4" x2="1811.5" y2="567.4" stroke="#151515" stroke-width="2.2" />
<line x1="1837.6" y1="542.4" x2="1837.6" y2="567.4" stroke="#151515" stroke-width="2.2" />
<line x1="1831.1" y1="542.4" x2="1844.1" y2="542.4" stroke="#151515" stroke-width="2.2" />
<line x1="1831.1" y1="567.4" x2="1844.1" y2="567.4" stroke="#151515" stroke-width="2.2" />
<line x1="1870.2" y1="545.5" x2="1870.2" y2="570.5" stroke="#151515" stroke-width="2.2" />
<line x1="1863.7" y1="545.5" x2="1876.7" y2="545.5" stroke="#151515" stroke-width="2.2" />
<line x1="1863.7" y1="570.5" x2="1876.7" y2="570.5" stroke="#151515" stroke-width="2.2" />
<line x1="1902.7" y1="545.6" x2="1902.7" y2="570.6" stroke="#151515" stroke-width="2.2" />
<line x1="1896.2" y1="545.6" x2="1909.2" y2="545.6" stroke="#151515" stroke-width="2.2" />
<line x1="1896.2" y1="570.6" x2="1909.2" y2="570.6" stroke="#151515" stroke-width="2.2" />
<line x1="1935.3" y1="542.3" x2="1935.3" y2="567.3" stroke="#151515" stroke-width="2.2" />
<line x1="1928.8" y1="542.3" x2="1941.8" y2="542.3" stroke="#151515" stroke-width="2.2" />
<line x1="1928.8" y1="567.3" x2="1941.8" y2="567.3" stroke="#151515" stroke-width="2.2" />
<line x1="1967.8" y1="538.1" x2="1967.8" y2="566.1" stroke="#151515" stroke-width="2.2" />
<line x1="1961.3" y1="538.1" x2="1974.3" y2="538.1" stroke="#151515" stroke-width="2.2" />
<line x1="1961.3" y1="566.1" x2="1974.3" y2="566.1" stroke="#151515" stroke-width="2.2" />
<line x1="2000.4" y1="542.3" x2="2000.4" y2="567.3" stroke="#151515" stroke-width="2.2" />
<line x1="1993.9" y1="542.3" x2="2006.9" y2="542.3" stroke="#151515" stroke-width="2.2" />
<line x1="1993.9" y1="567.3" x2="2006.9" y2="567.3" stroke="#151515" stroke-width="2.2" />
<line x1="2032.9" y1="542.3" x2="2032.9" y2="567.3" stroke="#151515" stroke-width="2.2" />
<line x1="2026.4" y1="542.3" x2="2039.4" y2="542.3" stroke="#151515" stroke-width="2.2" />
<line x1="2026.4" y1="567.3" x2="2039.4" y2="567.3" stroke="#151515" stroke-width="2.2" />
<polyline fill="none" stroke="#e8192c" stroke-width="3.6" stroke-linejoin="round" stroke-linecap="butt" points="1316.7,683.6 1332.0,674.3 1346.9,668.7 1462.2,668.7 1478.5,671.0 1494.7,668.7 1511.9,666.4 1527.3,668.7 1544.0,665.0 1559.8,668.7 1576.1,662.7 1592.4,665.9 1624.9,665.9 1773.7,665.5 1788.5,668.2 1805.3,665.5 1821.6,662.7 1837.8,665.0 1854.1,671.0 1870.4,665.9 1886.6,668.7 1902.9,665.9 1918.7,668.2 1935.0,668.2 1951.7,667.8 1968.0,665.0 1984.3,665.9 2000.5,668.2 2016.8,668.2 2033.1,671.0 2048.9,668.2"/>
<line x1="1349.3" y1="664.9" x2="1349.3" y2="672.5" stroke="#151515" stroke-width="2.2" />
<line x1="1342.8" y1="664.9" x2="1355.8" y2="664.9" stroke="#151515" stroke-width="2.2" />
<line x1="1342.8" y1="672.5" x2="1355.8" y2="672.5" stroke="#151515" stroke-width="2.2" />
<line x1="1381.8" y1="664.9" x2="1381.8" y2="672.5" stroke="#151515" stroke-width="2.2" />
<line x1="1375.3" y1="664.9" x2="1388.3" y2="664.9" stroke="#151515" stroke-width="2.2" />
<line x1="1375.3" y1="672.5" x2="1388.3" y2="672.5" stroke="#151515" stroke-width="2.2" />
<line x1="1414.4" y1="664.9" x2="1414.4" y2="672.5" stroke="#151515" stroke-width="2.2" />
<line x1="1407.9" y1="664.9" x2="1420.9" y2="664.9" stroke="#151515" stroke-width="2.2" />
<line x1="1407.9" y1="672.5" x2="1420.9" y2="672.5" stroke="#151515" stroke-width="2.2" />
<line x1="1446.9" y1="664.9" x2="1446.9" y2="672.5" stroke="#151515" stroke-width="2.2" />
<line x1="1440.4" y1="664.9" x2="1453.4" y2="664.9" stroke="#151515" stroke-width="2.2" />
<line x1="1440.4" y1="672.5" x2="1453.4" y2="672.5" stroke="#151515" stroke-width="2.2" />
<line x1="1479.5" y1="667.1" x2="1479.5" y2="674.7" stroke="#151515" stroke-width="2.2" />
<line x1="1473.0" y1="667.1" x2="1486.0" y2="667.1" stroke="#151515" stroke-width="2.2" />
<line x1="1473.0" y1="674.7" x2="1486.0" y2="674.7" stroke="#151515" stroke-width="2.2" />
<line x1="1512.0" y1="662.6" x2="1512.0" y2="670.2" stroke="#151515" stroke-width="2.2" />
<line x1="1505.5" y1="662.6" x2="1518.5" y2="662.6" stroke="#151515" stroke-width="2.2" />
<line x1="1505.5" y1="670.2" x2="1518.5" y2="670.2" stroke="#151515" stroke-width="2.2" />
<line x1="1544.6" y1="661.3" x2="1544.6" y2="668.9" stroke="#151515" stroke-width="2.2" />
<line x1="1538.1" y1="661.3" x2="1551.1" y2="661.3" stroke="#151515" stroke-width="2.2" />
<line x1="1538.1" y1="668.9" x2="1551.1" y2="668.9" stroke="#151515" stroke-width="2.2" />
<line x1="1577.1" y1="659.1" x2="1577.1" y2="666.7" stroke="#151515" stroke-width="2.2" />
<line x1="1570.6" y1="659.1" x2="1583.6" y2="659.1" stroke="#151515" stroke-width="2.2" />
<line x1="1570.6" y1="666.7" x2="1583.6" y2="666.7" stroke="#151515" stroke-width="2.2" />
<line x1="1609.7" y1="662.1" x2="1609.7" y2="669.7" stroke="#151515" stroke-width="2.2" />
<line x1="1603.2" y1="662.1" x2="1616.2" y2="662.1" stroke="#151515" stroke-width="2.2" />
<line x1="1603.2" y1="669.7" x2="1616.2" y2="669.7" stroke="#151515" stroke-width="2.2" />
<line x1="1642.3" y1="662.1" x2="1642.3" y2="669.7" stroke="#151515" stroke-width="2.2" />
<line x1="1635.8" y1="662.1" x2="1648.8" y2="662.1" stroke="#151515" stroke-width="2.2" />
<line x1="1635.8" y1="669.7" x2="1648.8" y2="669.7" stroke="#151515" stroke-width="2.2" />
<line x1="1674.8" y1="662.0" x2="1674.8" y2="669.6" stroke="#151515" stroke-width="2.2" />
<line x1="1668.3" y1="662.0" x2="1681.3" y2="662.0" stroke="#151515" stroke-width="2.2" />
<line x1="1668.3" y1="669.6" x2="1681.3" y2="669.6" stroke="#151515" stroke-width="2.2" />
<line x1="1707.4" y1="661.9" x2="1707.4" y2="669.5" stroke="#151515" stroke-width="2.2" />
<line x1="1700.9" y1="661.9" x2="1713.9" y2="661.9" stroke="#151515" stroke-width="2.2" />
<line x1="1700.9" y1="669.5" x2="1713.9" y2="669.5" stroke="#151515" stroke-width="2.2" />
<line x1="1739.9" y1="661.8" x2="1739.9" y2="669.4" stroke="#151515" stroke-width="2.2" />
<line x1="1733.4" y1="661.8" x2="1746.4" y2="661.8" stroke="#151515" stroke-width="2.2" />
<line x1="1733.4" y1="669.4" x2="1746.4" y2="669.4" stroke="#151515" stroke-width="2.2" />
<line x1="1772.5" y1="661.7" x2="1772.5" y2="669.3" stroke="#151515" stroke-width="2.2" />
<line x1="1766.0" y1="661.7" x2="1779.0" y2="661.7" stroke="#151515" stroke-width="2.2" />
<line x1="1766.0" y1="669.3" x2="1779.0" y2="669.3" stroke="#151515" stroke-width="2.2" />
<line x1="1805.0" y1="661.7" x2="1805.0" y2="669.3" stroke="#151515" stroke-width="2.2" />
<line x1="1798.5" y1="661.7" x2="1811.5" y2="661.7" stroke="#151515" stroke-width="2.2" />
<line x1="1798.5" y1="669.3" x2="1811.5" y2="669.3" stroke="#151515" stroke-width="2.2" />
<line x1="1837.6" y1="661.2" x2="1837.6" y2="668.8" stroke="#151515" stroke-width="2.2" />
<line x1="1831.1" y1="661.2" x2="1844.1" y2="661.2" stroke="#151515" stroke-width="2.2" />
<line x1="1831.1" y1="668.8" x2="1844.1" y2="668.8" stroke="#151515" stroke-width="2.2" />
<line x1="1870.2" y1="662.2" x2="1870.2" y2="669.8" stroke="#151515" stroke-width="2.2" />
<line x1="1863.7" y1="662.2" x2="1876.7" y2="662.2" stroke="#151515" stroke-width="2.2" />
<line x1="1863.7" y1="669.8" x2="1876.7" y2="669.8" stroke="#151515" stroke-width="2.2" />
<line x1="1902.7" y1="662.2" x2="1902.7" y2="669.8" stroke="#151515" stroke-width="2.2" />
<line x1="1896.2" y1="662.2" x2="1909.2" y2="662.2" stroke="#151515" stroke-width="2.2" />
<line x1="1896.2" y1="669.8" x2="1909.2" y2="669.8" stroke="#151515" stroke-width="2.2" />
<line x1="1935.3" y1="664.4" x2="1935.3" y2="672.0" stroke="#151515" stroke-width="2.2" />
<line x1="1928.8" y1="664.4" x2="1941.8" y2="664.4" stroke="#151515" stroke-width="2.2" />
<line x1="1928.8" y1="672.0" x2="1941.8" y2="672.0" stroke="#151515" stroke-width="2.2" />
<line x1="1967.8" y1="661.2" x2="1967.8" y2="668.8" stroke="#151515" stroke-width="2.2" />
<line x1="1961.3" y1="661.2" x2="1974.3" y2="661.2" stroke="#151515" stroke-width="2.2" />
<line x1="1961.3" y1="668.8" x2="1974.3" y2="668.8" stroke="#151515" stroke-width="2.2" />
<line x1="2000.4" y1="664.4" x2="2000.4" y2="672.0" stroke="#151515" stroke-width="2.2" />
<line x1="1993.9" y1="664.4" x2="2006.9" y2="664.4" stroke="#151515" stroke-width="2.2" />
<line x1="1993.9" y1="672.0" x2="2006.9" y2="672.0" stroke="#151515" stroke-width="2.2" />
<line x1="2032.9" y1="667.2" x2="2032.9" y2="674.8" stroke="#151515" stroke-width="2.2" />
<line x1="2026.4" y1="667.2" x2="2039.4" y2="667.2" stroke="#151515" stroke-width="2.2" />
<line x1="2026.4" y1="674.8" x2="2039.4" y2="674.8" stroke="#151515" stroke-width="2.2" />
</g>
<g id="panelD">
<defs>
<filter id="fire" x="0" y="0" width="100%" height="100%" filterUnits="objectBoundingBox" color-interpolation-filters="sRGB">
 <feGaussianBlur in="SourceGraphic" stdDeviation="1.1" result="src"/>
 <feTurbulence type="fractalNoise" baseFrequency="0.15" numOctaves="2" seed="5" result="n0"/>
 <feColorMatrix in="n0" type="matrix" values="1 0 0 0 0  1 0 0 0 0  1 0 0 0 0  0 0 0 0 1" result="n"/>
 <feComposite in="src" in2="n" operator="arithmetic" k1="1.3" k2="0.33" k3="0" k4="0" result="m"/>
 <feColorMatrix in="m" type="matrix" values="1 0 0 0 0  0 1 0 0 0  0 0 1 0 0  0 0 0 0 1" result="m1"/>
 <feComponentTransfer in="m1">
  <feFuncR type="table" tableValues="0.000 0.008 0.016 0.042 0.068 0.108 0.157 0.206 0.266 0.329 0.392 0.466 0.539 0.608 0.673 0.737 0.794 0.851 0.893 0.930 0.961 0.980 1.000 1.000 1.000 1.000 1.000 1.000 1.000 1.000 1.000 1.000 1.000 1.000 1.000 1.000 1.000 1.000 1.000 1.000 1.000"/>
  <feFuncG type="table" tableValues="0.000 0.008 0.016 0.045 0.075 0.110 0.149 0.188 0.194 0.191 0.188 0.162 0.136 0.112 0.089 0.068 0.055 0.042 0.050 0.063 0.095 0.155 0.216 0.279 0.342 0.404 0.463 0.522 0.579 0.635 0.691 0.747 0.803 0.859 0.905 0.947 0.978 0.992 1.000 1.000 1.000"/>
  <feFuncB type="table" tableValues="0.000 0.157 0.314 0.493 0.673 0.783 0.846 0.909 0.914 0.904 0.894 0.857 0.819 0.750 0.660 0.565 0.451 0.337 0.251 0.173 0.114 0.084 0.055 0.055 0.055 0.055 0.055 0.055 0.057 0.063 0.068 0.076 0.084 0.092 0.135 0.185 0.282 0.449 0.624 0.812 1.000"/>
 </feComponentTransfer>
</filter>
<filter id="bl3" x="-50%" y="-50%" width="200%" height="200%"><feGaussianBlur stdDeviation="1.8"/></filter>
<filter id="bl6" x="-50%" y="-50%" width="200%" height="200%"><feGaussianBlur stdDeviation="5"/></filter>
<linearGradient id="cbar" x1="0" x2="1" y1="0" y2="0">
<stop offset="0.000" stop-color="rgb(0,0,0)"/>
<stop offset="0.050" stop-color="rgb(4,4,80)"/>
<stop offset="0.110" stop-color="rgb(20,22,190)"/>
<stop offset="0.180" stop-color="rgb(55,50,235)"/>
<stop offset="0.250" stop-color="rgb(100,48,228)"/>
<stop offset="0.310" stop-color="rgb(145,32,205)"/>
<stop offset="0.370" stop-color="rgb(185,18,150)"/>
<stop offset="0.430" stop-color="rgb(220,10,80)"/>
<stop offset="0.490" stop-color="rgb(243,18,32)"/>
<stop offset="0.550" stop-color="rgb(255,55,14)"/>
<stop offset="0.620" stop-color="rgb(255,100,14)"/>
<stop offset="0.690" stop-color="rgb(255,142,14)"/>
<stop offset="0.760" stop-color="rgb(255,182,18)"/>
<stop offset="0.830" stop-color="rgb(255,222,24)"/>
<stop offset="0.890" stop-color="rgb(255,248,55)"/>
<stop offset="0.940" stop-color="rgb(255,255,140)"/>
<stop offset="1.000" stop-color="rgb(255,255,255)"/>
</linearGradient></defs>
<clipPath id="nc1"><path d="M107.8,1173.2C114.3,1173.1 123.3,1173.6 131.0,1175.5C138.8,1177.5 146.8,1181.1 154.3,1184.8C161.7,1188.6 168.7,1192.9 175.9,1198.0C183.1,1203.0 190.9,1208.5 197.6,1215.0C204.3,1221.4 210.5,1229.4 216.1,1236.6C221.8,1243.9 227.2,1251.3 231.6,1258.3C236.0,1265.3 239.6,1271.7 242.4,1278.4C245.3,1285.1 247.7,1291.6 248.6,1298.5C249.5,1305.5 249.2,1313.5 247.9,1320.2C246.6,1326.9 244.1,1332.8 240.9,1338.8C237.7,1344.7 233.7,1351.4 228.5,1355.8C223.4,1360.2 216.7,1363.3 210.0,1365.1C203.3,1366.9 196.0,1366.9 188.3,1366.6C180.6,1366.4 171.8,1365.3 163.5,1363.5C155.3,1361.7 147.0,1358.9 138.8,1355.8C130.5,1352.7 121.8,1348.8 114.0,1345.0C106.3,1341.1 99.1,1337.5 92.4,1332.6C85.7,1327.7 79.2,1321.2 73.8,1315.6C68.4,1309.9 63.9,1304.7 59.9,1298.5C55.9,1292.3 52.3,1285.1 49.8,1278.4C47.4,1271.7 45.9,1265.0 45.2,1258.3C44.4,1251.6 44.3,1244.9 45.2,1238.2C46.1,1231.5 47.9,1224.5 50.6,1218.1C53.3,1211.6 57.0,1205.1 61.4,1199.5C65.8,1194.0 71.7,1188.7 76.9,1184.8C82.0,1180.9 87.2,1178.2 92.4,1176.3C97.5,1174.4 101.4,1173.3 107.8,1173.2Z"/></clipPath>
<g filter="url(#fire)">
<rect x="21.5" y="1155.4" width="243.4" height="243.2" fill="#000"/>
<circle cx="76.9" cy="1336.4" r="5.3" fill="#242424" filter="url(#bl3)"/>
<circle cx="71.5" cy="1321.7" r="2.8" fill="#161616" filter="url(#bl3)"/>
<circle cx="141.9" cy="1377.4" r="3.4" fill="#101010" filter="url(#bl3)"/>
<circle cx="29.7" cy="1315.6" r="2.2" fill="#121212" filter="url(#bl3)"/>
<circle cx="48.3" cy="1289.3" r="2.5" fill="#0c0c0c" filter="url(#bl3)"/>
<circle cx="257.9" cy="1264.5" r="2.2" fill="#0e0e0e" filter="url(#bl3)"/>
<circle cx="146.5" cy="1366.6" r="2.2" fill="#0c0c0c" filter="url(#bl3)"/>
<path d="M107.8,1173.2C114.3,1173.1 123.3,1173.6 131.0,1175.5C138.8,1177.5 146.8,1181.1 154.3,1184.8C161.7,1188.6 168.7,1192.9 175.9,1198.0C183.1,1203.0 190.9,1208.5 197.6,1215.0C204.3,1221.4 210.5,1229.4 216.1,1236.6C221.8,1243.9 227.2,1251.3 231.6,1258.3C236.0,1265.3 239.6,1271.7 242.4,1278.4C245.3,1285.1 247.7,1291.6 248.6,1298.5C249.5,1305.5 249.2,1313.5 247.9,1320.2C246.6,1326.9 244.1,1332.8 240.9,1338.8C237.7,1344.7 233.7,1351.4 228.5,1355.8C223.4,1360.2 216.7,1363.3 210.0,1365.1C203.3,1366.9 196.0,1366.9 188.3,1366.6C180.6,1366.4 171.8,1365.3 163.5,1363.5C155.3,1361.7 147.0,1358.9 138.8,1355.8C130.5,1352.7 121.8,1348.8 114.0,1345.0C106.3,1341.1 99.1,1337.5 92.4,1332.6C85.7,1327.7 79.2,1321.2 73.8,1315.6C68.4,1309.9 63.9,1304.7 59.9,1298.5C55.9,1292.3 52.3,1285.1 49.8,1278.4C47.4,1271.7 45.9,1265.0 45.2,1258.3C44.4,1251.6 44.3,1244.9 45.2,1238.2C46.1,1231.5 47.9,1224.5 50.6,1218.1C53.3,1211.6 57.0,1205.1 61.4,1199.5C65.8,1194.0 71.7,1188.7 76.9,1184.8C82.0,1180.9 87.2,1178.2 92.4,1176.3C97.5,1174.4 101.4,1173.3 107.8,1173.2Z" fill="#a0a0a0"/>
<g clip-path="url(#nc1)">
<path d="M107.8,1173.2C114.3,1173.1 123.3,1173.6 131.0,1175.5C138.8,1177.5 146.8,1181.1 154.3,1184.8C161.7,1188.6 168.7,1192.9 175.9,1198.0C183.1,1203.0 190.9,1208.5 197.6,1215.0C204.3,1221.4 210.5,1229.4 216.1,1236.6C221.8,1243.9 227.2,1251.3 231.6,1258.3C236.0,1265.3 239.6,1271.7 242.4,1278.4C245.3,1285.1 247.7,1291.6 248.6,1298.5C249.5,1305.5 249.2,1313.5 247.9,1320.2C246.6,1326.9 244.1,1332.8 240.9,1338.8C237.7,1344.7 233.7,1351.4 228.5,1355.8C223.4,1360.2 216.7,1363.3 210.0,1365.1C203.3,1366.9 196.0,1366.9 188.3,1366.6C180.6,1366.4 171.8,1365.3 163.5,1363.5C155.3,1361.7 147.0,1358.9 138.8,1355.8C130.5,1352.7 121.8,1348.8 114.0,1345.0C106.3,1341.1 99.1,1337.5 92.4,1332.6C85.7,1327.7 79.2,1321.2 73.8,1315.6C68.4,1309.9 63.9,1304.7 59.9,1298.5C55.9,1292.3 52.3,1285.1 49.8,1278.4C47.4,1271.7 45.9,1265.0 45.2,1258.3C44.4,1251.6 44.3,1244.9 45.2,1238.2C46.1,1231.5 47.9,1224.5 50.6,1218.1C53.3,1211.6 57.0,1205.1 61.4,1199.5C65.8,1194.0 71.7,1188.7 76.9,1184.8C82.0,1180.9 87.2,1178.2 92.4,1176.3C97.5,1174.4 101.4,1173.3 107.8,1173.2Z" fill="none" stroke="#d2d2d2" stroke-width="24" filter="url(#bl6)"/>
<ellipse cx="110.9" cy="1196.4" rx="9.7" ry="8.7" fill="#2a2a2a" filter="url(#bl3)"/>
<ellipse cx="138.8" cy="1204.2" rx="10.6" ry="8.7" fill="#2a2a2a" filter="url(#bl3)"/>
<ellipse cx="83.1" cy="1211.9" rx="10.6" ry="7.7" fill="#2a2a2a" filter="url(#bl3)"/>
<ellipse cx="160.4" cy="1219.6" rx="12.6" ry="6.8" fill="#2a2a2a" filter="url(#bl3)"/>
<ellipse cx="100.1" cy="1227.4" rx="8.7" ry="8.7" fill="#2a2a2a" filter="url(#bl3)"/>
<ellipse cx="75.3" cy="1253.7" rx="9.7" ry="5.8" fill="#2a2a2a" filter="url(#bl3)"/>
<ellipse cx="106.3" cy="1255.2" rx="10.6" ry="8.7" fill="#2a2a2a" filter="url(#bl3)"/>
<ellipse cx="171.3" cy="1255.2" rx="6.8" ry="8.7" fill="#2a2a2a" filter="url(#bl3)"/>
<ellipse cx="189.8" cy="1244.4" rx="5.8" ry="9.7" fill="#2a2a2a" filter="url(#bl3)"/>
<ellipse cx="117.1" cy="1270.7" rx="5.8" ry="5.8" fill="#2a2a2a" filter="url(#bl3)"/>
<ellipse cx="177.5" cy="1269.1" rx="5.4" ry="6.8" fill="#2a2a2a" filter="url(#bl3)"/>
<ellipse cx="151.2" cy="1264.5" rx="11.6" ry="4.3" fill="#2a2a2a" filter="url(#bl3)"/>
<ellipse cx="203.8" cy="1284.6" rx="4.8" ry="11.6" fill="#2a2a2a" filter="url(#bl3)"/>
<ellipse cx="92.4" cy="1295.4" rx="10.6" ry="9.7" fill="#2a2a2a" filter="url(#bl3)"/>
<ellipse cx="106.3" cy="1303.2" rx="8.7" ry="6.8" fill="#2a2a2a" filter="url(#bl3)"/>
<ellipse cx="183.7" cy="1304.7" rx="8.7" ry="7.7" fill="#2a2a2a" filter="url(#bl3)"/>
<ellipse cx="196.0" cy="1309.4" rx="7.7" ry="6.8" fill="#2a2a2a" filter="url(#bl3)"/>
<ellipse cx="175.9" cy="1315.6" rx="7.7" ry="5.8" fill="#2a2a2a" filter="url(#bl3)"/>
<ellipse cx="129.5" cy="1332.6" rx="4.8" ry="4.8" fill="#2a2a2a" filter="url(#bl3)"/>
<ellipse cx="148.1" cy="1329.5" rx="4.3" ry="5.8" fill="#2a2a2a" filter="url(#bl3)"/>
<ellipse cx="179.0" cy="1337.2" rx="6.8" ry="3.9" fill="#2a2a2a" filter="url(#bl3)"/>
<ellipse cx="67.6" cy="1284.6" rx="4.8" ry="4.8" fill="#2a2a2a" filter="url(#bl3)"/>
<ellipse cx="155.8" cy="1307.8" rx="4.8" ry="4.8" fill="#2a2a2a" filter="url(#bl3)"/>
<ellipse cx="123.3" cy="1309.4" rx="4.8" ry="5.8" fill="#2a2a2a" filter="url(#bl3)"/>
<ellipse cx="206.9" cy="1258.3" rx="5.8" ry="4.8" fill="#2a2a2a" filter="url(#bl3)"/>
<ellipse cx="222.3" cy="1317.1" rx="4.3" ry="5.4" fill="#2a2a2a" filter="url(#bl3)"/>
<ellipse cx="190.4" cy="1325.5" rx="5.4" ry="5.2" fill="#5e5e5e" filter="url(#bl3)"/>
<ellipse cx="133.9" cy="1287.5" rx="4.8" ry="4.7" fill="#5e5e5e" filter="url(#bl3)"/>
<ellipse cx="81.3" cy="1260.3" rx="4.7" ry="2.5" fill="#5e5e5e" filter="url(#bl3)"/>
<ellipse cx="151.2" cy="1227.7" rx="4.4" ry="4.4" fill="#5e5e5e" filter="url(#bl3)"/>
<ellipse cx="221.5" cy="1279.1" rx="3.7" ry="4.4" fill="#5e5e5e" filter="url(#bl3)"/>
<ellipse cx="159.5" cy="1241.9" rx="2.9" ry="4.7" fill="#5e5e5e" filter="url(#bl3)"/>
<ellipse cx="112.4" cy="1344.9" rx="2.9" ry="3.5" fill="#5e5e5e" filter="url(#bl3)"/>
<ellipse cx="204.7" cy="1326.3" rx="5.4" ry="3.0" fill="#5e5e5e" filter="url(#bl3)"/>
<ellipse cx="108.3" cy="1192.4" rx="5.4" ry="3.2" fill="#5e5e5e" filter="url(#bl3)"/>
<ellipse cx="230.6" cy="1318.6" rx="4.5" ry="2.7" fill="#5e5e5e" filter="url(#bl3)"/>
<ellipse cx="132.6" cy="1249.8" rx="4.7" ry="5.1" fill="#5e5e5e" filter="url(#bl3)"/>
<ellipse cx="65.0" cy="1323.5" rx="5.4" ry="3.1" fill="#5e5e5e" filter="url(#bl3)"/>
<ellipse cx="234.7" cy="1277.2" rx="4.6" ry="3.6" fill="#5e5e5e" filter="url(#bl3)"/>
<ellipse cx="174.9" cy="1195.0" rx="5.3" ry="4.4" fill="#5e5e5e" filter="url(#bl3)"/>
<ellipse cx="96.4" cy="1312.4" rx="3.5" ry="4.9" fill="#5e5e5e" filter="url(#bl3)"/>
<ellipse cx="152.8" cy="1218.8" rx="5.3" ry="3.7" fill="#5e5e5e" filter="url(#bl3)"/>
<ellipse cx="195.2" cy="1223.7" rx="3.4" ry="3.6" fill="#5e5e5e" filter="url(#bl3)"/>
<ellipse cx="115.9" cy="1212.0" rx="3.9" ry="3.8" fill="#5e5e5e" filter="url(#bl3)"/>
<ellipse cx="214.9" cy="1227.2" rx="4.9" ry="4.8" fill="#5e5e5e" filter="url(#bl3)"/>
<ellipse cx="80.5" cy="1204.7" rx="3.8" ry="4.2" fill="#5e5e5e" filter="url(#bl3)"/>
<ellipse cx="154.1" cy="1258.1" rx="4.0" ry="4.6" fill="#5e5e5e" filter="url(#bl3)"/>
<ellipse cx="203.5" cy="1227.4" rx="4.9" ry="3.3" fill="#5e5e5e" filter="url(#bl3)"/>
<ellipse cx="85.5" cy="1214.5" rx="3.1" ry="3.7" fill="#5e5e5e" filter="url(#bl3)"/>
<ellipse cx="137.1" cy="1313.6" rx="3.3" ry="3.4" fill="#5e5e5e" filter="url(#bl3)"/>
<ellipse cx="155.5" cy="1209.3" rx="3.7" ry="4.9" fill="#5e5e5e" filter="url(#bl3)"/>
<ellipse cx="62.3" cy="1188.1" rx="5.0" ry="4.0" fill="#5e5e5e" filter="url(#bl3)"/>
<ellipse cx="155.6" cy="1209.7" rx="4.4" ry="2.9" fill="#5e5e5e" filter="url(#bl3)"/>
<ellipse cx="97.5" cy="1228.9" rx="3.1" ry="2.6" fill="#5e5e5e" filter="url(#bl3)"/>
<ellipse cx="135.3" cy="1215.5" rx="2.6" ry="5.3" fill="#5e5e5e" filter="url(#bl3)"/>
<ellipse cx="173.8" cy="1337.6" rx="4.4" ry="4.9" fill="#5e5e5e" filter="url(#bl3)"/>
<ellipse cx="183.8" cy="1330.7" rx="5.2" ry="4.9" fill="#5e5e5e" filter="url(#bl3)"/>
<ellipse cx="158.2" cy="1314.5" rx="3.8" ry="3.1" fill="#5e5e5e" filter="url(#bl3)"/>
<ellipse cx="174.9" cy="1283.4" rx="5.0" ry="4.6" fill="#5e5e5e" filter="url(#bl3)"/>
<ellipse cx="66.7" cy="1301.8" rx="4.1" ry="4.9" fill="#5e5e5e" filter="url(#bl3)"/>
<ellipse cx="176.1" cy="1268.8" rx="5.1" ry="4.6" fill="#5e5e5e" filter="url(#bl3)"/>
<ellipse cx="94.4" cy="1317.5" rx="3.3" ry="3.0" fill="#5e5e5e" filter="url(#bl3)"/>
<ellipse cx="113.2" cy="1353.5" rx="4.8" ry="2.8" fill="#5e5e5e" filter="url(#bl3)"/>
<ellipse cx="59.0" cy="1332.2" rx="3.7" ry="4.7" fill="#5e5e5e" filter="url(#bl3)"/>
<ellipse cx="68.5" cy="1212.6" rx="3.3" ry="4.4" fill="#5e5e5e" filter="url(#bl3)"/>
<ellipse cx="128.3" cy="1316.4" rx="3.0" ry="3.2" fill="#5e5e5e" filter="url(#bl3)"/>
<circle cx="124.9" cy="1247.5" r="2.5" fill="#ffffff" filter="url(#bl3)"/>
<circle cx="158.9" cy="1247.5" r="1.9" fill="#ffffff" filter="url(#bl3)"/>
<circle cx="162.0" cy="1295.4" r="3.1" fill="#ffffff" filter="url(#bl3)"/>
<circle cx="214.6" cy="1315.6" r="3.1" fill="#ffffff" filter="url(#bl3)"/>
<circle cx="192.9" cy="1215.0" r="1.5" fill="#ffffff" filter="url(#bl3)"/>
<circle cx="240.9" cy="1286.2" r="2.2" fill="#ffffff" filter="url(#bl3)"/>
<circle cx="219.2" cy="1352.7" r="2.5" fill="#ffffff" filter="url(#bl3)"/>
</g></g>
<clipPath id="nc2"><path d="M442.8,1170.1C448.5,1170.5 454.4,1171.7 459.9,1174.0C465.3,1176.3 471.0,1179.8 475.3,1184.0C479.7,1188.3 483.5,1193.8 486.2,1199.5C488.9,1205.2 490.5,1211.9 491.6,1218.1C492.6,1224.3 492.7,1229.9 492.4,1236.6C492.0,1243.4 490.8,1251.3 489.3,1258.3C487.7,1265.3 485.9,1271.7 483.1,1278.4C480.2,1285.1 476.1,1292.3 472.2,1298.5C468.4,1304.7 463.5,1310.4 459.9,1315.6C456.3,1320.7 453.9,1324.6 450.6,1329.5C447.2,1334.4 443.9,1339.5 439.7,1345.0C435.6,1350.4 431.2,1357.1 425.8,1362.0C420.4,1366.9 413.7,1371.1 407.3,1374.4C400.8,1377.6 393.8,1380.0 387.1,1381.3C380.4,1382.6 374.0,1382.7 367.0,1382.1C360.1,1381.4 352.1,1380.0 345.4,1377.4C338.7,1374.9 332.2,1371.0 326.8,1366.6C321.4,1362.2 316.6,1356.8 312.9,1351.1C309.1,1345.5 306.3,1339.0 304.4,1332.6C302.4,1326.1 301.3,1319.2 301.3,1312.5C301.3,1305.8 302.4,1299.1 304.4,1292.3C306.3,1285.6 309.1,1278.9 312.9,1272.2C316.6,1265.5 321.6,1258.6 326.8,1252.1C332.0,1245.7 337.6,1240.3 343.8,1233.6C350.0,1226.8 357.0,1218.6 363.9,1211.9C370.9,1205.2 378.4,1198.9 385.6,1193.3C392.8,1187.8 400.5,1182.2 407.3,1178.6C414.0,1175.0 419.9,1173.1 425.8,1171.7C431.8,1170.2 437.2,1169.7 442.8,1170.1Z"/></clipPath>
<g filter="url(#fire)">
<rect x="273.4" y="1155.4" width="243.7" height="243.2" fill="#000"/>
<circle cx="293.5" cy="1394.5" r="2.5" fill="#101010" filter="url(#bl3)"/>
<circle cx="506.3" cy="1365.1" r="1.9" fill="#0e0e0e" filter="url(#bl3)"/>
<circle cx="319.1" cy="1224.3" r="1.5" fill="#0c0c0c" filter="url(#bl3)"/>
<circle cx="483.1" cy="1377.4" r="1.5" fill="#0c0c0c" filter="url(#bl3)"/>
<circle cx="459.9" cy="1324.8" r="1.9" fill="#0c0c0c" filter="url(#bl3)"/>
<path d="M442.8,1170.1C448.5,1170.5 454.4,1171.7 459.9,1174.0C465.3,1176.3 471.0,1179.8 475.3,1184.0C479.7,1188.3 483.5,1193.8 486.2,1199.5C488.9,1205.2 490.5,1211.9 491.6,1218.1C492.6,1224.3 492.7,1229.9 492.4,1236.6C492.0,1243.4 490.8,1251.3 489.3,1258.3C487.7,1265.3 485.9,1271.7 483.1,1278.4C480.2,1285.1 476.1,1292.3 472.2,1298.5C468.4,1304.7 463.5,1310.4 459.9,1315.6C456.3,1320.7 453.9,1324.6 450.6,1329.5C447.2,1334.4 443.9,1339.5 439.7,1345.0C435.6,1350.4 431.2,1357.1 425.8,1362.0C420.4,1366.9 413.7,1371.1 407.3,1374.4C400.8,1377.6 393.8,1380.0 387.1,1381.3C380.4,1382.6 374.0,1382.7 367.0,1382.1C360.1,1381.4 352.1,1380.0 345.4,1377.4C338.7,1374.9 332.2,1371.0 326.8,1366.6C321.4,1362.2 316.6,1356.8 312.9,1351.1C309.1,1345.5 306.3,1339.0 304.4,1332.6C302.4,1326.1 301.3,1319.2 301.3,1312.5C301.3,1305.8 302.4,1299.1 304.4,1292.3C306.3,1285.6 309.1,1278.9 312.9,1272.2C316.6,1265.5 321.6,1258.6 326.8,1252.1C332.0,1245.7 337.6,1240.3 343.8,1233.6C350.0,1226.8 357.0,1218.6 363.9,1211.9C370.9,1205.2 378.4,1198.9 385.6,1193.3C392.8,1187.8 400.5,1182.2 407.3,1178.6C414.0,1175.0 419.9,1173.1 425.8,1171.7C431.8,1170.2 437.2,1169.7 442.8,1170.1Z" fill="#a0a0a0"/>
<g clip-path="url(#nc2)">
<path d="M442.8,1170.1C448.5,1170.5 454.4,1171.7 459.9,1174.0C465.3,1176.3 471.0,1179.8 475.3,1184.0C479.7,1188.3 483.5,1193.8 486.2,1199.5C488.9,1205.2 490.5,1211.9 491.6,1218.1C492.6,1224.3 492.7,1229.9 492.4,1236.6C492.0,1243.4 490.8,1251.3 489.3,1258.3C487.7,1265.3 485.9,1271.7 483.1,1278.4C480.2,1285.1 476.1,1292.3 472.2,1298.5C468.4,1304.7 463.5,1310.4 459.9,1315.6C456.3,1320.7 453.9,1324.6 450.6,1329.5C447.2,1334.4 443.9,1339.5 439.7,1345.0C435.6,1350.4 431.2,1357.1 425.8,1362.0C420.4,1366.9 413.7,1371.1 407.3,1374.4C400.8,1377.6 393.8,1380.0 387.1,1381.3C380.4,1382.6 374.0,1382.7 367.0,1382.1C360.1,1381.4 352.1,1380.0 345.4,1377.4C338.7,1374.9 332.2,1371.0 326.8,1366.6C321.4,1362.2 316.6,1356.8 312.9,1351.1C309.1,1345.5 306.3,1339.0 304.4,1332.6C302.4,1326.1 301.3,1319.2 301.3,1312.5C301.3,1305.8 302.4,1299.1 304.4,1292.3C306.3,1285.6 309.1,1278.9 312.9,1272.2C316.6,1265.5 321.6,1258.6 326.8,1252.1C332.0,1245.7 337.6,1240.3 343.8,1233.6C350.0,1226.8 357.0,1218.6 363.9,1211.9C370.9,1205.2 378.4,1198.9 385.6,1193.3C392.8,1187.8 400.5,1182.2 407.3,1178.6C414.0,1175.0 419.9,1173.1 425.8,1171.7C431.8,1170.2 437.2,1169.7 442.8,1170.1Z" fill="none" stroke="#d2d2d2" stroke-width="24" filter="url(#bl6)"/>
<ellipse cx="418.1" cy="1202.6" rx="10.6" ry="10.6" fill="#2a2a2a" filter="url(#bl3)"/>
<ellipse cx="453.7" cy="1211.9" rx="10.6" ry="8.7" fill="#2a2a2a" filter="url(#bl3)"/>
<ellipse cx="472.2" cy="1216.5" rx="4.8" ry="4.8" fill="#2a2a2a" filter="url(#bl3)"/>
<ellipse cx="399.5" cy="1224.3" rx="8.7" ry="6.8" fill="#2a2a2a" filter="url(#bl3)"/>
<ellipse cx="415.0" cy="1232.0" rx="6.8" ry="7.7" fill="#2a2a2a" filter="url(#bl3)"/>
<ellipse cx="425.8" cy="1241.3" rx="6.8" ry="5.8" fill="#2a2a2a" filter="url(#bl3)"/>
<ellipse cx="467.6" cy="1242.8" rx="6.8" ry="5.8" fill="#2a2a2a" filter="url(#bl3)"/>
<ellipse cx="442.8" cy="1245.9" rx="5.8" ry="7.7" fill="#2a2a2a" filter="url(#bl3)"/>
<ellipse cx="373.2" cy="1259.9" rx="6.8" ry="13.5" fill="#2a2a2a" filter="url(#bl3)"/>
<ellipse cx="387.1" cy="1250.6" rx="5.8" ry="5.8" fill="#2a2a2a" filter="url(#bl3)"/>
<ellipse cx="336.1" cy="1273.8" rx="10.6" ry="6.8" fill="#2a2a2a" filter="url(#bl3)"/>
<ellipse cx="370.1" cy="1283.1" rx="6.8" ry="7.7" fill="#2a2a2a" filter="url(#bl3)"/>
<ellipse cx="413.4" cy="1273.8" rx="8.7" ry="4.8" fill="#2a2a2a" filter="url(#bl3)"/>
<ellipse cx="432.0" cy="1273.8" rx="8.7" ry="5.4" fill="#2a2a2a" filter="url(#bl3)"/>
<ellipse cx="325.2" cy="1295.4" rx="4.8" ry="5.8" fill="#2a2a2a" filter="url(#bl3)"/>
<ellipse cx="384.0" cy="1298.5" rx="10.6" ry="10.6" fill="#2a2a2a" filter="url(#bl3)"/>
<ellipse cx="422.7" cy="1298.5" rx="8.7" ry="5.8" fill="#2a2a2a" filter="url(#bl3)"/>
<ellipse cx="413.4" cy="1309.4" rx="6.8" ry="6.8" fill="#2a2a2a" filter="url(#bl3)"/>
<ellipse cx="320.6" cy="1315.6" rx="4.8" ry="6.8" fill="#2a2a2a" filter="url(#bl3)"/>
<ellipse cx="343.8" cy="1310.9" rx="6.8" ry="9.7" fill="#2a2a2a" filter="url(#bl3)"/>
<ellipse cx="385.6" cy="1329.5" rx="8.7" ry="9.7" fill="#2a2a2a" filter="url(#bl3)"/>
<ellipse cx="404.2" cy="1323.3" rx="4.8" ry="4.8" fill="#2a2a2a" filter="url(#bl3)"/>
<ellipse cx="348.5" cy="1358.9" rx="8.7" ry="6.8" fill="#2a2a2a" filter="url(#bl3)"/>
<ellipse cx="379.4" cy="1358.9" rx="5.8" ry="4.8" fill="#2a2a2a" filter="url(#bl3)"/>
<ellipse cx="399.5" cy="1351.1" rx="5.8" ry="5.8" fill="#2a2a2a" filter="url(#bl3)"/>
<ellipse cx="418.1" cy="1340.3" rx="4.3" ry="4.3" fill="#2a2a2a" filter="url(#bl3)"/>
<ellipse cx="452.1" cy="1264.5" rx="4.3" ry="4.3" fill="#2a2a2a" filter="url(#bl3)"/>
<ellipse cx="354.6" cy="1250.6" rx="4.8" ry="4.8" fill="#2a2a2a" filter="url(#bl3)"/>
<ellipse cx="363.9" cy="1343.4" rx="4.8" ry="4.8" fill="#2a2a2a" filter="url(#bl3)"/>
<ellipse cx="417.2" cy="1308.6" rx="4.1" ry="4.1" fill="#5e5e5e" filter="url(#bl3)"/>
<ellipse cx="366.9" cy="1349.5" rx="4.8" ry="5.3" fill="#5e5e5e" filter="url(#bl3)"/>
<ellipse cx="459.3" cy="1298.8" rx="2.8" ry="4.7" fill="#5e5e5e" filter="url(#bl3)"/>
<ellipse cx="413.7" cy="1265.3" rx="5.2" ry="5.4" fill="#5e5e5e" filter="url(#bl3)"/>
<ellipse cx="376.3" cy="1286.2" rx="2.6" ry="3.8" fill="#5e5e5e" filter="url(#bl3)"/>
<ellipse cx="386.5" cy="1207.4" rx="2.7" ry="2.8" fill="#5e5e5e" filter="url(#bl3)"/>
<ellipse cx="396.8" cy="1295.9" rx="3.0" ry="3.3" fill="#5e5e5e" filter="url(#bl3)"/>
<ellipse cx="468.2" cy="1248.8" rx="3.3" ry="5.3" fill="#5e5e5e" filter="url(#bl3)"/>
<ellipse cx="371.4" cy="1338.5" rx="3.9" ry="3.1" fill="#5e5e5e" filter="url(#bl3)"/>
<ellipse cx="441.1" cy="1228.6" rx="2.9" ry="5.0" fill="#5e5e5e" filter="url(#bl3)"/>
<ellipse cx="318.5" cy="1239.7" rx="2.7" ry="4.6" fill="#5e5e5e" filter="url(#bl3)"/>
<ellipse cx="462.6" cy="1285.2" rx="3.5" ry="4.7" fill="#5e5e5e" filter="url(#bl3)"/>
<ellipse cx="341.8" cy="1206.3" rx="2.6" ry="4.8" fill="#5e5e5e" filter="url(#bl3)"/>
<ellipse cx="453.1" cy="1228.3" rx="3.6" ry="5.1" fill="#5e5e5e" filter="url(#bl3)"/>
<ellipse cx="410.3" cy="1292.0" rx="5.3" ry="5.4" fill="#5e5e5e" filter="url(#bl3)"/>
<ellipse cx="318.4" cy="1185.2" rx="3.6" ry="3.6" fill="#5e5e5e" filter="url(#bl3)"/>
<ellipse cx="452.5" cy="1236.8" rx="3.9" ry="4.5" fill="#5e5e5e" filter="url(#bl3)"/>
<ellipse cx="472.1" cy="1334.2" rx="4.2" ry="3.3" fill="#5e5e5e" filter="url(#bl3)"/>
<ellipse cx="330.2" cy="1193.4" rx="4.0" ry="4.7" fill="#5e5e5e" filter="url(#bl3)"/>
<ellipse cx="359.9" cy="1327.7" rx="3.7" ry="5.4" fill="#5e5e5e" filter="url(#bl3)"/>
<ellipse cx="366.2" cy="1305.5" rx="2.9" ry="4.3" fill="#5e5e5e" filter="url(#bl3)"/>
<ellipse cx="365.6" cy="1220.2" rx="4.0" ry="3.9" fill="#5e5e5e" filter="url(#bl3)"/>
<ellipse cx="402.2" cy="1237.4" rx="3.5" ry="3.3" fill="#5e5e5e" filter="url(#bl3)"/>
<ellipse cx="401.3" cy="1336.8" rx="3.6" ry="4.0" fill="#5e5e5e" filter="url(#bl3)"/>
<ellipse cx="344.5" cy="1205.5" rx="2.5" ry="5.1" fill="#5e5e5e" filter="url(#bl3)"/>
<ellipse cx="413.8" cy="1211.9" rx="2.7" ry="5.5" fill="#5e5e5e" filter="url(#bl3)"/>
<ellipse cx="350.6" cy="1361.1" rx="3.5" ry="5.1" fill="#5e5e5e" filter="url(#bl3)"/>
<ellipse cx="371.4" cy="1318.3" rx="3.6" ry="2.5" fill="#5e5e5e" filter="url(#bl3)"/>
<ellipse cx="353.7" cy="1248.9" rx="4.7" ry="3.8" fill="#5e5e5e" filter="url(#bl3)"/>
<ellipse cx="462.9" cy="1354.1" rx="5.3" ry="3.7" fill="#5e5e5e" filter="url(#bl3)"/>
<ellipse cx="372.2" cy="1302.7" rx="2.7" ry="3.8" fill="#5e5e5e" filter="url(#bl3)"/>
<ellipse cx="467.8" cy="1292.5" rx="4.7" ry="2.6" fill="#5e5e5e" filter="url(#bl3)"/>
<ellipse cx="376.8" cy="1327.3" rx="4.1" ry="3.8" fill="#5e5e5e" filter="url(#bl3)"/>
<ellipse cx="467.0" cy="1191.3" rx="5.3" ry="4.1" fill="#5e5e5e" filter="url(#bl3)"/>
<ellipse cx="426.8" cy="1208.5" rx="3.8" ry="4.2" fill="#5e5e5e" filter="url(#bl3)"/>
<ellipse cx="479.3" cy="1251.9" rx="2.6" ry="4.7" fill="#5e5e5e" filter="url(#bl3)"/>
<ellipse cx="335.6" cy="1342.3" rx="5.1" ry="3.4" fill="#5e5e5e" filter="url(#bl3)"/>
<ellipse cx="419.3" cy="1276.9" rx="4.9" ry="4.8" fill="#5e5e5e" filter="url(#bl3)"/>
<ellipse cx="407.9" cy="1317.5" rx="4.8" ry="5.2" fill="#5e5e5e" filter="url(#bl3)"/>
<ellipse cx="376.8" cy="1333.3" rx="2.8" ry="4.1" fill="#5e5e5e" filter="url(#bl3)"/>
<circle cx="455.2" cy="1306.3" r="5.0" fill="#ffffff" filter="url(#bl3)"/>
<circle cx="402.6" cy="1292.3" r="3.7" fill="#ffffff" filter="url(#bl3)"/>
<circle cx="428.9" cy="1253.7" r="3.7" fill="#ffffff" filter="url(#bl3)"/>
<circle cx="357.7" cy="1261.4" r="2.5" fill="#ffffff" filter="url(#bl3)"/>
<circle cx="379.4" cy="1348.1" r="3.4" fill="#ffffff" filter="url(#bl3)"/>
<circle cx="345.4" cy="1329.5" r="3.1" fill="#ffffff" filter="url(#bl3)"/>
<circle cx="339.2" cy="1307.8" r="1.9" fill="#ffffff" filter="url(#bl3)"/>
</g></g>
<rect x="205.6" y="1383.6" width="53.1" height="7.3" fill="#fff"/>
<rect x="458" y="1383.6" width="53.2" height="7.3" fill="#fff"/>
<text x="148.5" y="1141.0" font-size="35.5" text-anchor="middle" fill="#151515" stroke="#151515" font-style="italic" >WT</text>
<g transform="translate(335.0,1141.0) skewX(-12)"><text x="0" y="0" font-size="36.5" fill="#151515" stroke="#151515">HPF1<tspan dx="0.0" dy="-11.3" font-size="29.2">KO</tspan></text></g>
<rect x="154.7" y="1430.8" width="213" height="27.2" fill="url(#cbar)"/>
<text x="72.8" y="1458.0" font-size="35.5" text-anchor="start" fill="#151515" stroke="#151515"  >Low</text>
<text x="395.3" y="1458.0" font-size="35.5" text-anchor="start" fill="#151515" stroke="#151515"  >High</text>
</g>
<g id="panelE">
<line x1="719.4" y1="1113.8" x2="719.4" y2="1537.2" stroke="#151515" stroke-width="2.6" />
<line x1="718.1" y1="1536.0" x2="1017.8" y2="1536.0" stroke="#151515" stroke-width="2.6" />
<line x1="698.0" y1="1518.6" x2="719.4" y2="1518.6" stroke="#151515" stroke-width="2.5" />
<text x="687.5" y="1528.2" font-size="30" text-anchor="end" fill="#151515" stroke="#151515"  >0</text>
<line x1="698.0" y1="1417.8" x2="719.4" y2="1417.8" stroke="#151515" stroke-width="2.5" />
<text x="687.5" y="1427.4" font-size="30" text-anchor="end" fill="#151515" stroke="#151515"  >500</text>
<line x1="698.0" y1="1317.1" x2="719.4" y2="1317.1" stroke="#151515" stroke-width="2.5" />
<text x="687.5" y="1326.7" font-size="30" text-anchor="end" fill="#151515" stroke="#151515"  >1000</text>
<line x1="698.0" y1="1216.3" x2="719.4" y2="1216.3" stroke="#151515" stroke-width="2.5" />
<text x="687.5" y="1225.9" font-size="30" text-anchor="end" fill="#151515" stroke="#151515"  >1500</text>
<line x1="698.0" y1="1115.6" x2="719.4" y2="1115.6" stroke="#151515" stroke-width="2.5" />
<text x="687.5" y="1125.2" font-size="30" text-anchor="end" fill="#151515" stroke="#151515"  >2000</text>
<line x1="805.3" y1="1536.0" x2="805.3" y2="1557.7" stroke="#151515" stroke-width="2.5" />
<line x1="952.8" y1="1536.0" x2="952.8" y2="1557.7" stroke="#151515" stroke-width="2.5" />
<line x1="805.3" y1="1181.3" x2="805.3" y2="1298.5" stroke="#151515" stroke-width="1.8" stroke-dasharray="7 6"/>
<line x1="805.3" y1="1430.2" x2="805.3" y2="1481.7" stroke="#151515" stroke-width="1.8" stroke-dasharray="7 6"/>
<line x1="775.0" y1="1181.3" x2="835.6" y2="1181.3" stroke="#151515" stroke-width="1.8" />
<line x1="775.0" y1="1481.7" x2="835.6" y2="1481.7" stroke="#151515" stroke-width="1.8" />
<rect x="745.5" y="1298.5" width="118.9" height="131.7" fill="#fff" stroke="#151515" stroke-width="2"/>
<line x1="952.8" y1="1166.4" x2="952.8" y2="1306.0" stroke="#151515" stroke-width="1.8" stroke-dasharray="7 6"/>
<line x1="952.8" y1="1424.0" x2="952.8" y2="1519.6" stroke="#151515" stroke-width="1.8" stroke-dasharray="7 6"/>
<line x1="922.5" y1="1166.4" x2="983.1" y2="1166.4" stroke="#151515" stroke-width="1.8" />
<line x1="922.5" y1="1519.6" x2="983.1" y2="1519.6" stroke="#151515" stroke-width="1.8" />
<rect x="894.2" y="1306.0" width="117.1" height="118.0" fill="#b9c0bf" stroke="#151515" stroke-width="2"/>
<circle cx="805.3" cy="1481.1" r="3.3" fill="none" stroke="#151515" stroke-width="1.2"/>
<circle cx="810.8" cy="1480.1" r="3.3" fill="none" stroke="#151515" stroke-width="1.2"/>
<circle cx="800.3" cy="1478.0" r="3.3" fill="none" stroke="#151515" stroke-width="1.2"/>
<circle cx="815.2" cy="1475.5" r="3.3" fill="none" stroke="#151515" stroke-width="1.2"/>
<circle cx="795.3" cy="1474.7" r="3.3" fill="none" stroke="#151515" stroke-width="1.2"/>
<circle cx="805.3" cy="1473.3" r="3.3" fill="none" stroke="#151515" stroke-width="1.2"/>
<circle cx="819.9" cy="1471.5" r="3.3" fill="none" stroke="#151515" stroke-width="1.2"/>
<circle cx="810.5" cy="1470.9" r="3.3" fill="none" stroke="#151515" stroke-width="1.2"/>
<circle cx="800.6" cy="1469.3" r="3.3" fill="none" stroke="#151515" stroke-width="1.2"/>
<circle cx="792.7" cy="1468.0" r="3.3" fill="none" stroke="#151515" stroke-width="1.2"/>
<circle cx="815.3" cy="1467.0" r="3.3" fill="none" stroke="#151515" stroke-width="1.2"/>
<circle cx="805.4" cy="1465.5" r="3.3" fill="none" stroke="#151515" stroke-width="1.2"/>
<circle cx="821.4" cy="1464.2" r="3.3" fill="none" stroke="#151515" stroke-width="1.2"/>
<circle cx="810.6" cy="1463.0" r="3.3" fill="none" stroke="#151515" stroke-width="1.2"/>
<circle cx="802.7" cy="1458.9" r="3.3" fill="none" stroke="#151515" stroke-width="1.2"/>
<circle cx="797.4" cy="1456.8" r="3.3" fill="none" stroke="#151515" stroke-width="1.2"/>
<circle cx="807.1" cy="1454.4" r="3.3" fill="none" stroke="#151515" stroke-width="1.2"/>
<circle cx="802.5" cy="1450.3" r="3.3" fill="none" stroke="#151515" stroke-width="1.2"/>
<circle cx="811.7" cy="1450.0" r="3.3" fill="none" stroke="#151515" stroke-width="1.2"/>
<circle cx="797.1" cy="1448.8" r="3.3" fill="none" stroke="#151515" stroke-width="1.2"/>
<circle cx="816.8" cy="1447.3" r="3.3" fill="none" stroke="#151515" stroke-width="1.2"/>
<circle cx="791.9" cy="1446.4" r="3.3" fill="none" stroke="#151515" stroke-width="1.2"/>
<circle cx="806.4" cy="1444.8" r="3.3" fill="none" stroke="#151515" stroke-width="1.2"/>
<circle cx="821.6" cy="1443.7" r="3.3" fill="none" stroke="#151515" stroke-width="1.2"/>
<circle cx="801.2" cy="1442.2" r="3.3" fill="none" stroke="#151515" stroke-width="1.2"/>
<circle cx="811.3" cy="1441.3" r="3.3" fill="none" stroke="#151515" stroke-width="1.2"/>
<circle cx="795.9" cy="1440.0" r="3.3" fill="none" stroke="#151515" stroke-width="1.2"/>
<circle cx="816.5" cy="1439.0" r="3.3" fill="none" stroke="#151515" stroke-width="1.2"/>
<circle cx="805.4" cy="1437.3" r="3.3" fill="none" stroke="#151515" stroke-width="1.2"/>
<circle cx="791.0" cy="1436.7" r="3.3" fill="none" stroke="#151515" stroke-width="1.2"/>
<circle cx="821.4" cy="1435.5" r="3.3" fill="none" stroke="#151515" stroke-width="1.2"/>
<circle cx="801.8" cy="1431.6" r="3.3" fill="none" stroke="#151515" stroke-width="1.2"/>
<circle cx="808.6" cy="1431.1" r="3.3" fill="none" stroke="#151515" stroke-width="1.2"/>
<circle cx="814.1" cy="1430.0" r="3.3" fill="none" stroke="#151515" stroke-width="1.2"/>
<circle cx="796.7" cy="1428.6" r="3.3" fill="none" stroke="#151515" stroke-width="1.2"/>
<circle cx="791.2" cy="1428.1" r="3.3" fill="none" stroke="#151515" stroke-width="1.2"/>
<circle cx="819.2" cy="1427.1" r="3.3" fill="none" stroke="#151515" stroke-width="1.2"/>
<circle cx="824.7" cy="1426.5" r="3.3" fill="none" stroke="#151515" stroke-width="1.2"/>
<circle cx="805.3" cy="1423.6" r="3.3" fill="none" stroke="#151515" stroke-width="1.2"/>
<circle cx="810.7" cy="1422.2" r="3.3" fill="none" stroke="#151515" stroke-width="1.2"/>
<circle cx="800.0" cy="1421.3" r="3.3" fill="none" stroke="#151515" stroke-width="1.2"/>
<circle cx="815.9" cy="1419.7" r="3.3" fill="none" stroke="#151515" stroke-width="1.2"/>
<circle cx="795.0" cy="1418.4" r="3.3" fill="none" stroke="#151515" stroke-width="1.2"/>
<circle cx="789.5" cy="1417.5" r="3.3" fill="none" stroke="#151515" stroke-width="1.2"/>
<circle cx="805.3" cy="1413.6" r="3.3" fill="none" stroke="#151515" stroke-width="1.2"/>
<circle cx="810.7" cy="1412.4" r="3.3" fill="none" stroke="#151515" stroke-width="1.2"/>
<circle cx="800.1" cy="1411.3" r="3.3" fill="none" stroke="#151515" stroke-width="1.2"/>
<circle cx="794.6" cy="1410.2" r="3.3" fill="none" stroke="#151515" stroke-width="1.2"/>
<circle cx="815.6" cy="1408.9" r="3.3" fill="none" stroke="#151515" stroke-width="1.2"/>
<circle cx="821.1" cy="1407.7" r="3.3" fill="none" stroke="#151515" stroke-width="1.2"/>
<circle cx="805.3" cy="1404.0" r="3.3" fill="none" stroke="#151515" stroke-width="1.2"/>
<circle cx="810.8" cy="1403.1" r="3.3" fill="none" stroke="#151515" stroke-width="1.2"/>
<circle cx="800.0" cy="1401.8" r="3.3" fill="none" stroke="#151515" stroke-width="1.2"/>
<circle cx="815.7" cy="1399.8" r="3.3" fill="none" stroke="#151515" stroke-width="1.2"/>
<circle cx="794.9" cy="1399.0" r="3.3" fill="none" stroke="#151515" stroke-width="1.2"/>
<circle cx="805.3" cy="1394.5" r="3.3" fill="none" stroke="#151515" stroke-width="1.2"/>
<circle cx="810.7" cy="1393.1" r="3.3" fill="none" stroke="#151515" stroke-width="1.2"/>
<circle cx="800.1" cy="1392.1" r="3.3" fill="none" stroke="#151515" stroke-width="1.2"/>
<circle cx="815.9" cy="1390.5" r="3.3" fill="none" stroke="#151515" stroke-width="1.2"/>
<circle cx="795.1" cy="1388.9" r="3.3" fill="none" stroke="#151515" stroke-width="1.2"/>
<circle cx="807.0" cy="1387.3" r="3.3" fill="none" stroke="#151515" stroke-width="1.2"/>
<circle cx="820.5" cy="1386.3" r="3.3" fill="none" stroke="#151515" stroke-width="1.2"/>
<circle cx="801.9" cy="1384.4" r="3.3" fill="none" stroke="#151515" stroke-width="1.2"/>
<circle cx="810.2" cy="1381.0" r="3.3" fill="none" stroke="#151515" stroke-width="1.2"/>
<circle cx="797.2" cy="1380.5" r="3.3" fill="none" stroke="#151515" stroke-width="1.2"/>
<circle cx="815.5" cy="1378.9" r="3.3" fill="none" stroke="#151515" stroke-width="1.2"/>
<circle cx="805.1" cy="1378.2" r="3.3" fill="none" stroke="#151515" stroke-width="1.2"/>
<circle cx="792.3" cy="1376.9" r="3.3" fill="none" stroke="#151515" stroke-width="1.2"/>
<circle cx="820.3" cy="1375.3" r="3.3" fill="none" stroke="#151515" stroke-width="1.2"/>
<circle cx="787.1" cy="1374.5" r="3.3" fill="none" stroke="#151515" stroke-width="1.2"/>
<circle cx="808.9" cy="1372.7" r="3.3" fill="none" stroke="#151515" stroke-width="1.2"/>
<circle cx="801.8" cy="1372.1" r="3.3" fill="none" stroke="#151515" stroke-width="1.2"/>
<circle cx="814.2" cy="1370.4" r="3.3" fill="none" stroke="#151515" stroke-width="1.2"/>
<circle cx="805.3" cy="1362.3" r="3.3" fill="none" stroke="#151515" stroke-width="1.2"/>
<circle cx="810.8" cy="1361.7" r="3.3" fill="none" stroke="#151515" stroke-width="1.2"/>
<circle cx="799.9" cy="1360.7" r="3.3" fill="none" stroke="#151515" stroke-width="1.2"/>
<circle cx="816.2" cy="1360.1" r="3.3" fill="none" stroke="#151515" stroke-width="1.2"/>
<circle cx="794.4" cy="1359.8" r="3.3" fill="none" stroke="#151515" stroke-width="1.2"/>
<circle cx="788.9" cy="1359.6" r="3.3" fill="none" stroke="#151515" stroke-width="1.2"/>
<circle cx="821.6" cy="1358.8" r="3.3" fill="none" stroke="#151515" stroke-width="1.2"/>
<circle cx="783.5" cy="1358.5" r="3.3" fill="none" stroke="#151515" stroke-width="1.2"/>
<circle cx="827.1" cy="1358.1" r="3.3" fill="none" stroke="#151515" stroke-width="1.2"/>
<circle cx="805.3" cy="1354.1" r="3.3" fill="none" stroke="#151515" stroke-width="1.2"/>
<circle cx="810.7" cy="1352.8" r="3.3" fill="none" stroke="#151515" stroke-width="1.2"/>
<circle cx="800.1" cy="1351.5" r="3.3" fill="none" stroke="#151515" stroke-width="1.2"/>
<circle cx="814.3" cy="1347.0" r="3.3" fill="none" stroke="#151515" stroke-width="1.2"/>
<circle cx="805.3" cy="1345.4" r="3.3" fill="none" stroke="#151515" stroke-width="1.2"/>
<circle cx="797.4" cy="1344.9" r="3.3" fill="none" stroke="#151515" stroke-width="1.2"/>
<circle cx="792.0" cy="1343.7" r="3.3" fill="none" stroke="#151515" stroke-width="1.2"/>
<circle cx="819.0" cy="1343.0" r="3.3" fill="none" stroke="#151515" stroke-width="1.2"/>
<circle cx="786.6" cy="1342.1" r="3.3" fill="none" stroke="#151515" stroke-width="1.2"/>
<circle cx="809.8" cy="1341.0" r="3.3" fill="none" stroke="#151515" stroke-width="1.2"/>
<circle cx="802.0" cy="1339.3" r="3.3" fill="none" stroke="#151515" stroke-width="1.2"/>
<circle cx="806.4" cy="1334.7" r="3.3" fill="none" stroke="#151515" stroke-width="1.2"/>
<circle cx="803.0" cy="1328.6" r="3.3" fill="none" stroke="#151515" stroke-width="1.2"/>
<circle cx="808.5" cy="1327.3" r="3.3" fill="none" stroke="#151515" stroke-width="1.2"/>
<circle cx="797.8" cy="1326.2" r="3.3" fill="none" stroke="#151515" stroke-width="1.2"/>
<circle cx="813.7" cy="1324.9" r="3.3" fill="none" stroke="#151515" stroke-width="1.2"/>
<circle cx="792.5" cy="1323.9" r="3.3" fill="none" stroke="#151515" stroke-width="1.2"/>
<circle cx="818.9" cy="1322.5" r="3.3" fill="none" stroke="#151515" stroke-width="1.2"/>
<circle cx="805.1" cy="1321.3" r="3.3" fill="none" stroke="#151515" stroke-width="1.2"/>
<circle cx="805.3" cy="1312.0" r="3.3" fill="none" stroke="#151515" stroke-width="1.2"/>
<circle cx="810.8" cy="1311.0" r="3.3" fill="none" stroke="#151515" stroke-width="1.2"/>
<circle cx="800.0" cy="1310.1" r="3.3" fill="none" stroke="#151515" stroke-width="1.2"/>
<circle cx="816.1" cy="1308.9" r="3.3" fill="none" stroke="#151515" stroke-width="1.2"/>
<circle cx="794.6" cy="1308.3" r="3.3" fill="none" stroke="#151515" stroke-width="1.2"/>
<circle cx="821.4" cy="1307.1" r="3.3" fill="none" stroke="#151515" stroke-width="1.2"/>
<circle cx="789.2" cy="1306.6" r="3.3" fill="none" stroke="#151515" stroke-width="1.2"/>
<circle cx="805.3" cy="1300.4" r="3.3" fill="none" stroke="#151515" stroke-width="1.2"/>
<circle cx="810.8" cy="1299.6" r="3.3" fill="none" stroke="#151515" stroke-width="1.2"/>
<circle cx="799.9" cy="1298.9" r="3.3" fill="none" stroke="#151515" stroke-width="1.2"/>
<circle cx="794.4" cy="1298.9" r="3.3" fill="none" stroke="#151515" stroke-width="1.2"/>
<circle cx="816.2" cy="1298.2" r="3.3" fill="none" stroke="#151515" stroke-width="1.2"/>
<circle cx="789.0" cy="1297.0" r="3.3" fill="none" stroke="#151515" stroke-width="1.2"/>
<circle cx="821.6" cy="1296.7" r="3.3" fill="none" stroke="#151515" stroke-width="1.2"/>
<circle cx="783.6" cy="1295.6" r="3.3" fill="none" stroke="#151515" stroke-width="1.2"/>
<circle cx="806.1" cy="1292.9" r="3.3" fill="none" stroke="#151515" stroke-width="1.2"/>
<circle cx="811.5" cy="1291.8" r="3.3" fill="none" stroke="#151515" stroke-width="1.2"/>
<circle cx="800.8" cy="1291.0" r="3.3" fill="none" stroke="#151515" stroke-width="1.2"/>
<circle cx="795.3" cy="1290.0" r="3.3" fill="none" stroke="#151515" stroke-width="1.2"/>
<circle cx="816.6" cy="1288.8" r="3.3" fill="none" stroke="#151515" stroke-width="1.2"/>
<circle cx="805.3" cy="1284.7" r="3.3" fill="none" stroke="#151515" stroke-width="1.2"/>
<circle cx="810.6" cy="1282.8" r="3.3" fill="none" stroke="#151515" stroke-width="1.2"/>
<circle cx="800.2" cy="1281.9" r="3.3" fill="none" stroke="#151515" stroke-width="1.2"/>
<circle cx="805.3" cy="1276.2" r="3.3" fill="none" stroke="#151515" stroke-width="1.2"/>
<circle cx="810.7" cy="1274.9" r="3.3" fill="none" stroke="#151515" stroke-width="1.2"/>
<circle cx="800.4" cy="1272.8" r="3.3" fill="none" stroke="#151515" stroke-width="1.2"/>
<circle cx="794.9" cy="1272.0" r="3.3" fill="none" stroke="#151515" stroke-width="1.2"/>
<circle cx="805.3" cy="1267.8" r="3.3" fill="none" stroke="#151515" stroke-width="1.2"/>
<circle cx="805.3" cy="1255.7" r="3.3" fill="none" stroke="#151515" stroke-width="1.2"/>
<circle cx="810.8" cy="1255.3" r="3.3" fill="none" stroke="#151515" stroke-width="1.2"/>
<circle cx="799.9" cy="1254.3" r="3.3" fill="none" stroke="#151515" stroke-width="1.2"/>
<circle cx="805.3" cy="1243.1" r="3.3" fill="none" stroke="#151515" stroke-width="1.2"/>
<circle cx="807.4" cy="1236.0" r="3.3" fill="none" stroke="#151515" stroke-width="1.2"/>
<circle cx="801.9" cy="1234.7" r="3.3" fill="none" stroke="#151515" stroke-width="1.2"/>
<circle cx="811.0" cy="1230.3" r="3.3" fill="none" stroke="#151515" stroke-width="1.2"/>
<circle cx="805.3" cy="1228.5" r="3.3" fill="none" stroke="#151515" stroke-width="1.2"/>
<circle cx="799.8" cy="1227.6" r="3.3" fill="none" stroke="#151515" stroke-width="1.2"/>
<circle cx="815.2" cy="1225.4" r="3.3" fill="none" stroke="#151515" stroke-width="1.2"/>
<circle cx="805.3" cy="1212.7" r="3.3" fill="none" stroke="#151515" stroke-width="1.2"/>
<circle cx="810.8" cy="1212.3" r="3.3" fill="none" stroke="#151515" stroke-width="1.2"/>
<circle cx="800.0" cy="1210.6" r="3.3" fill="none" stroke="#151515" stroke-width="1.2"/>
<circle cx="816.0" cy="1209.7" r="3.3" fill="none" stroke="#151515" stroke-width="1.2"/>
<circle cx="794.6" cy="1209.2" r="3.3" fill="none" stroke="#151515" stroke-width="1.2"/>
<circle cx="821.4" cy="1208.2" r="3.3" fill="none" stroke="#151515" stroke-width="1.2"/>
<circle cx="805.3" cy="1196.9" r="3.3" fill="none" stroke="#151515" stroke-width="1.2"/>
<circle cx="810.4" cy="1194.1" r="3.3" fill="none" stroke="#151515" stroke-width="1.2"/>
<circle cx="805.3" cy="1181.1" r="3.3" fill="none" stroke="#151515" stroke-width="1.2"/>
<circle cx="805.3" cy="1092.7" r="3.3" fill="none" stroke="#151515" stroke-width="1.2"/>
<circle cx="952.8" cy="1521.3" r="3.3" fill="none" stroke="#151515" stroke-width="1.2"/>
<circle cx="952.8" cy="1502.7" r="3.3" fill="none" stroke="#151515" stroke-width="1.2"/>
<circle cx="952.8" cy="1493.7" r="3.3" fill="none" stroke="#151515" stroke-width="1.2"/>
<circle cx="957.3" cy="1489.3" r="3.3" fill="none" stroke="#151515" stroke-width="1.2"/>
<circle cx="949.4" cy="1487.8" r="3.3" fill="none" stroke="#151515" stroke-width="1.2"/>
<circle cx="953.9" cy="1483.3" r="3.3" fill="none" stroke="#151515" stroke-width="1.2"/>
<circle cx="959.3" cy="1481.8" r="3.3" fill="none" stroke="#151515" stroke-width="1.2"/>
<circle cx="948.8" cy="1480.2" r="3.3" fill="none" stroke="#151515" stroke-width="1.2"/>
<circle cx="943.6" cy="1477.9" r="3.3" fill="none" stroke="#151515" stroke-width="1.2"/>
<circle cx="952.8" cy="1474.6" r="3.3" fill="none" stroke="#151515" stroke-width="1.2"/>
<circle cx="958.0" cy="1472.2" r="3.3" fill="none" stroke="#151515" stroke-width="1.2"/>
<circle cx="947.9" cy="1471.2" r="3.3" fill="none" stroke="#151515" stroke-width="1.2"/>
<circle cx="942.6" cy="1469.1" r="3.3" fill="none" stroke="#151515" stroke-width="1.2"/>
<circle cx="952.8" cy="1466.6" r="3.3" fill="none" stroke="#151515" stroke-width="1.2"/>
<circle cx="960.6" cy="1465.5" r="3.3" fill="none" stroke="#151515" stroke-width="1.2"/>
<circle cx="966.0" cy="1463.9" r="3.3" fill="none" stroke="#151515" stroke-width="1.2"/>
<circle cx="947.9" cy="1463.0" r="3.3" fill="none" stroke="#151515" stroke-width="1.2"/>
<circle cx="940.7" cy="1461.9" r="3.3" fill="none" stroke="#151515" stroke-width="1.2"/>
<circle cx="935.3" cy="1460.8" r="3.3" fill="none" stroke="#151515" stroke-width="1.2"/>
<circle cx="954.2" cy="1459.2" r="3.3" fill="none" stroke="#151515" stroke-width="1.2"/>
<circle cx="959.5" cy="1457.5" r="3.3" fill="none" stroke="#151515" stroke-width="1.2"/>
<circle cx="944.8" cy="1456.7" r="3.3" fill="none" stroke="#151515" stroke-width="1.2"/>
<circle cx="964.9" cy="1455.5" r="3.3" fill="none" stroke="#151515" stroke-width="1.2"/>
<circle cx="950.1" cy="1454.0" r="3.3" fill="none" stroke="#151515" stroke-width="1.2"/>
<circle cx="940.0" cy="1453.0" r="3.3" fill="none" stroke="#151515" stroke-width="1.2"/>
<circle cx="955.4" cy="1451.7" r="3.3" fill="none" stroke="#151515" stroke-width="1.2"/>
<circle cx="969.2" cy="1450.8" r="3.3" fill="none" stroke="#151515" stroke-width="1.2"/>
<circle cx="960.7" cy="1449.5" r="3.3" fill="none" stroke="#151515" stroke-width="1.2"/>
<circle cx="946.8" cy="1448.0" r="3.3" fill="none" stroke="#151515" stroke-width="1.2"/>
<circle cx="936.4" cy="1447.3" r="3.3" fill="none" stroke="#151515" stroke-width="1.2"/>
<circle cx="973.6" cy="1446.1" r="3.3" fill="none" stroke="#151515" stroke-width="1.2"/>
<circle cx="952.8" cy="1444.8" r="3.3" fill="none" stroke="#151515" stroke-width="1.2"/>
<circle cx="942.4" cy="1443.3" r="3.3" fill="none" stroke="#151515" stroke-width="1.2"/>
<circle cx="958.1" cy="1442.7" r="3.3" fill="none" stroke="#151515" stroke-width="1.2"/>
<circle cx="963.5" cy="1441.4" r="3.3" fill="none" stroke="#151515" stroke-width="1.2"/>
<circle cx="948.4" cy="1440.2" r="3.3" fill="none" stroke="#151515" stroke-width="1.2"/>
<circle cx="937.9" cy="1439.1" r="3.3" fill="none" stroke="#151515" stroke-width="1.2"/>
<circle cx="968.5" cy="1438.1" r="3.3" fill="none" stroke="#151515" stroke-width="1.2"/>
<circle cx="953.3" cy="1436.8" r="3.3" fill="none" stroke="#151515" stroke-width="1.2"/>
<circle cx="959.7" cy="1435.4" r="3.3" fill="none" stroke="#151515" stroke-width="1.2"/>
<circle cx="945.4" cy="1433.9" r="3.3" fill="none" stroke="#151515" stroke-width="1.2"/>
<circle cx="934.1" cy="1433.6" r="3.3" fill="none" stroke="#151515" stroke-width="1.2"/>
<circle cx="964.6" cy="1431.8" r="3.3" fill="none" stroke="#151515" stroke-width="1.2"/>
<circle cx="940.3" cy="1431.0" r="3.3" fill="none" stroke="#151515" stroke-width="1.2"/>
<circle cx="951.5" cy="1429.6" r="3.3" fill="none" stroke="#151515" stroke-width="1.2"/>
<circle cx="956.9" cy="1428.6" r="3.3" fill="none" stroke="#151515" stroke-width="1.2"/>
<circle cx="968.8" cy="1426.9" r="3.3" fill="none" stroke="#151515" stroke-width="1.2"/>
<circle cx="931.9" cy="1426.6" r="3.3" fill="none" stroke="#151515" stroke-width="1.2"/>
<circle cx="946.6" cy="1425.9" r="3.3" fill="none" stroke="#151515" stroke-width="1.2"/>
<circle cx="974.2" cy="1425.2" r="3.3" fill="none" stroke="#151515" stroke-width="1.2"/>
<circle cx="926.4" cy="1425.2" r="3.3" fill="none" stroke="#151515" stroke-width="1.2"/>
<circle cx="961.7" cy="1424.8" r="3.3" fill="none" stroke="#151515" stroke-width="1.2"/>
<circle cx="937.7" cy="1424.2" r="3.3" fill="none" stroke="#151515" stroke-width="1.2"/>
<circle cx="979.6" cy="1424.0" r="3.3" fill="none" stroke="#151515" stroke-width="1.2"/>
<circle cx="921.1" cy="1423.2" r="3.3" fill="none" stroke="#151515" stroke-width="1.2"/>
<circle cx="985.0" cy="1422.7" r="3.3" fill="none" stroke="#151515" stroke-width="1.2"/>
<circle cx="952.9" cy="1422.3" r="3.3" fill="none" stroke="#151515" stroke-width="1.2"/>
<circle cx="915.7" cy="1421.8" r="3.3" fill="none" stroke="#151515" stroke-width="1.2"/>
<circle cx="942.8" cy="1420.4" r="3.3" fill="none" stroke="#151515" stroke-width="1.2"/>
<circle cx="965.6" cy="1419.4" r="3.3" fill="none" stroke="#151515" stroke-width="1.2"/>
<circle cx="957.9" cy="1419.0" r="3.3" fill="none" stroke="#151515" stroke-width="1.2"/>
<circle cx="948.3" cy="1418.0" r="3.3" fill="none" stroke="#151515" stroke-width="1.2"/>
<circle cx="936.1" cy="1417.0" r="3.3" fill="none" stroke="#151515" stroke-width="1.2"/>
<circle cx="970.5" cy="1416.1" r="3.3" fill="none" stroke="#151515" stroke-width="1.2"/>
<circle cx="930.7" cy="1415.6" r="3.3" fill="none" stroke="#151515" stroke-width="1.2"/>
<circle cx="953.2" cy="1414.5" r="3.3" fill="none" stroke="#151515" stroke-width="1.2"/>
<circle cx="961.5" cy="1413.3" r="3.3" fill="none" stroke="#151515" stroke-width="1.2"/>
<circle cx="944.5" cy="1412.5" r="3.3" fill="none" stroke="#151515" stroke-width="1.2"/>
<circle cx="975.3" cy="1412.2" r="3.3" fill="none" stroke="#151515" stroke-width="1.2"/>
<circle cx="926.5" cy="1410.7" r="3.3" fill="none" stroke="#151515" stroke-width="1.2"/>
<circle cx="939.3" cy="1410.0" r="3.3" fill="none" stroke="#151515" stroke-width="1.2"/>
<circle cx="966.2" cy="1409.3" r="3.3" fill="none" stroke="#151515" stroke-width="1.2"/>
<circle cx="950.3" cy="1408.1" r="3.3" fill="none" stroke="#151515" stroke-width="1.2"/>
<circle cx="955.8" cy="1406.8" r="3.3" fill="none" stroke="#151515" stroke-width="1.2"/>
<circle cx="961.2" cy="1405.7" r="3.3" fill="none" stroke="#151515" stroke-width="1.2"/>
<circle cx="934.9" cy="1405.3" r="3.3" fill="none" stroke="#151515" stroke-width="1.2"/>
<circle cx="945.7" cy="1403.9" r="3.3" fill="none" stroke="#151515" stroke-width="1.2"/>
<circle cx="969.3" cy="1403.0" r="3.3" fill="none" stroke="#151515" stroke-width="1.2"/>
<circle cx="940.4" cy="1402.2" r="3.3" fill="none" stroke="#151515" stroke-width="1.2"/>
<circle cx="974.7" cy="1401.4" r="3.3" fill="none" stroke="#151515" stroke-width="1.2"/>
<circle cx="952.8" cy="1399.9" r="3.3" fill="none" stroke="#151515" stroke-width="1.2"/>
<circle cx="964.2" cy="1399.3" r="3.3" fill="none" stroke="#151515" stroke-width="1.2"/>
<circle cx="958.1" cy="1397.8" r="3.3" fill="none" stroke="#151515" stroke-width="1.2"/>
<circle cx="936.1" cy="1397.5" r="3.3" fill="none" stroke="#151515" stroke-width="1.2"/>
<circle cx="948.3" cy="1395.6" r="3.3" fill="none" stroke="#151515" stroke-width="1.2"/>
<circle cx="942.8" cy="1394.6" r="3.3" fill="none" stroke="#151515" stroke-width="1.2"/>
<circle cx="968.0" cy="1393.8" r="3.3" fill="none" stroke="#151515" stroke-width="1.2"/>
<circle cx="973.4" cy="1392.7" r="3.3" fill="none" stroke="#151515" stroke-width="1.2"/>
<circle cx="953.0" cy="1391.6" r="3.3" fill="none" stroke="#151515" stroke-width="1.2"/>
<circle cx="959.5" cy="1390.4" r="3.3" fill="none" stroke="#151515" stroke-width="1.2"/>
<circle cx="946.3" cy="1388.5" r="3.3" fill="none" stroke="#151515" stroke-width="1.2"/>
<circle cx="940.2" cy="1387.9" r="3.3" fill="none" stroke="#151515" stroke-width="1.2"/>
<circle cx="964.1" cy="1386.4" r="3.3" fill="none" stroke="#151515" stroke-width="1.2"/>
<circle cx="955.2" cy="1384.7" r="3.3" fill="none" stroke="#151515" stroke-width="1.2"/>
<circle cx="969.2" cy="1383.5" r="3.3" fill="none" stroke="#151515" stroke-width="1.2"/>
<circle cx="936.2" cy="1382.7" r="3.3" fill="none" stroke="#151515" stroke-width="1.2"/>
<circle cx="950.5" cy="1380.5" r="3.3" fill="none" stroke="#151515" stroke-width="1.2"/>
<circle cx="958.7" cy="1378.8" r="3.3" fill="none" stroke="#151515" stroke-width="1.2"/>
<circle cx="945.4" cy="1377.9" r="3.3" fill="none" stroke="#151515" stroke-width="1.2"/>
<circle cx="964.1" cy="1377.5" r="3.3" fill="none" stroke="#151515" stroke-width="1.2"/>
<circle cx="940.0" cy="1376.2" r="3.3" fill="none" stroke="#151515" stroke-width="1.2"/>
<circle cx="969.4" cy="1375.2" r="3.3" fill="none" stroke="#151515" stroke-width="1.2"/>
<circle cx="954.0" cy="1374.6" r="3.3" fill="none" stroke="#151515" stroke-width="1.2"/>
<circle cx="935.0" cy="1373.2" r="3.3" fill="none" stroke="#151515" stroke-width="1.2"/>
<circle cx="974.4" cy="1372.1" r="3.3" fill="none" stroke="#151515" stroke-width="1.2"/>
<circle cx="949.1" cy="1371.3" r="3.3" fill="none" stroke="#151515" stroke-width="1.2"/>
<circle cx="958.4" cy="1370.0" r="3.3" fill="none" stroke="#151515" stroke-width="1.2"/>
<circle cx="943.8" cy="1369.3" r="3.3" fill="none" stroke="#151515" stroke-width="1.2"/>
<circle cx="963.7" cy="1367.9" r="3.3" fill="none" stroke="#151515" stroke-width="1.2"/>
<circle cx="938.5" cy="1366.9" r="3.3" fill="none" stroke="#151515" stroke-width="1.2"/>
<circle cx="952.8" cy="1364.8" r="3.3" fill="none" stroke="#151515" stroke-width="1.2"/>
<circle cx="968.3" cy="1363.6" r="3.3" fill="none" stroke="#151515" stroke-width="1.2"/>
<circle cx="947.5" cy="1362.8" r="3.3" fill="none" stroke="#151515" stroke-width="1.2"/>
<circle cx="957.6" cy="1361.1" r="3.3" fill="none" stroke="#151515" stroke-width="1.2"/>
<circle cx="963.0" cy="1359.9" r="3.3" fill="none" stroke="#151515" stroke-width="1.2"/>
<circle cx="942.6" cy="1359.3" r="3.3" fill="none" stroke="#151515" stroke-width="1.2"/>
<circle cx="952.1" cy="1357.3" r="3.3" fill="none" stroke="#151515" stroke-width="1.2"/>
<circle cx="937.5" cy="1356.6" r="3.3" fill="none" stroke="#151515" stroke-width="1.2"/>
<circle cx="967.6" cy="1355.5" r="3.3" fill="none" stroke="#151515" stroke-width="1.2"/>
<circle cx="947.1" cy="1353.9" r="3.3" fill="none" stroke="#151515" stroke-width="1.2"/>
<circle cx="956.3" cy="1352.5" r="3.3" fill="none" stroke="#151515" stroke-width="1.2"/>
<circle cx="961.8" cy="1351.9" r="3.3" fill="none" stroke="#151515" stroke-width="1.2"/>
<circle cx="942.3" cy="1350.1" r="3.3" fill="none" stroke="#151515" stroke-width="1.2"/>
<circle cx="935.7" cy="1349.4" r="3.3" fill="none" stroke="#151515" stroke-width="1.2"/>
<circle cx="951.7" cy="1348.3" r="3.3" fill="none" stroke="#151515" stroke-width="1.2"/>
<circle cx="965.7" cy="1346.4" r="3.3" fill="none" stroke="#151515" stroke-width="1.2"/>
<circle cx="957.0" cy="1345.0" r="3.3" fill="none" stroke="#151515" stroke-width="1.2"/>
<circle cx="947.4" cy="1343.5" r="3.3" fill="none" stroke="#151515" stroke-width="1.2"/>
<circle cx="942.1" cy="1341.6" r="3.3" fill="none" stroke="#151515" stroke-width="1.2"/>
<circle cx="952.5" cy="1340.5" r="3.3" fill="none" stroke="#151515" stroke-width="1.2"/>
<circle cx="959.8" cy="1338.4" r="3.3" fill="none" stroke="#151515" stroke-width="1.2"/>
<circle cx="949.3" cy="1334.4" r="3.3" fill="none" stroke="#151515" stroke-width="1.2"/>
<circle cx="954.7" cy="1333.2" r="3.3" fill="none" stroke="#151515" stroke-width="1.2"/>
<circle cx="943.9" cy="1332.7" r="3.3" fill="none" stroke="#151515" stroke-width="1.2"/>
<circle cx="962.9" cy="1332.1" r="3.3" fill="none" stroke="#151515" stroke-width="1.2"/>
<circle cx="938.6" cy="1331.0" r="3.3" fill="none" stroke="#151515" stroke-width="1.2"/>
<circle cx="968.3" cy="1330.9" r="3.3" fill="none" stroke="#151515" stroke-width="1.2"/>
<circle cx="933.2" cy="1329.5" r="3.3" fill="none" stroke="#151515" stroke-width="1.2"/>
<circle cx="973.6" cy="1328.8" r="3.3" fill="none" stroke="#151515" stroke-width="1.2"/>
<circle cx="927.7" cy="1328.2" r="3.3" fill="none" stroke="#151515" stroke-width="1.2"/>
<circle cx="958.4" cy="1327.4" r="3.3" fill="none" stroke="#151515" stroke-width="1.2"/>
<circle cx="979.0" cy="1327.3" r="3.3" fill="none" stroke="#151515" stroke-width="1.2"/>
<circle cx="951.7" cy="1326.8" r="3.3" fill="none" stroke="#151515" stroke-width="1.2"/>
<circle cx="946.3" cy="1325.5" r="3.3" fill="none" stroke="#151515" stroke-width="1.2"/>
<circle cx="954.9" cy="1320.5" r="3.3" fill="none" stroke="#151515" stroke-width="1.2"/>
<circle cx="949.5" cy="1318.8" r="3.3" fill="none" stroke="#151515" stroke-width="1.2"/>
<circle cx="959.9" cy="1317.5" r="3.3" fill="none" stroke="#151515" stroke-width="1.2"/>
<circle cx="944.6" cy="1315.5" r="3.3" fill="none" stroke="#151515" stroke-width="1.2"/>
<circle cx="953.1" cy="1313.1" r="3.3" fill="none" stroke="#151515" stroke-width="1.2"/>
<circle cx="948.8" cy="1308.5" r="3.3" fill="none" stroke="#151515" stroke-width="1.2"/>
<circle cx="957.2" cy="1308.0" r="3.3" fill="none" stroke="#151515" stroke-width="1.2"/>
<circle cx="943.4" cy="1306.5" r="3.3" fill="none" stroke="#151515" stroke-width="1.2"/>
<circle cx="962.5" cy="1305.8" r="3.3" fill="none" stroke="#151515" stroke-width="1.2"/>
<circle cx="938.2" cy="1304.1" r="3.3" fill="none" stroke="#151515" stroke-width="1.2"/>
<circle cx="952.8" cy="1302.9" r="3.3" fill="none" stroke="#151515" stroke-width="1.2"/>
<circle cx="967.5" cy="1302.6" r="3.3" fill="none" stroke="#151515" stroke-width="1.2"/>
<circle cx="933.0" cy="1301.7" r="3.3" fill="none" stroke="#151515" stroke-width="1.2"/>
<circle cx="957.9" cy="1300.1" r="3.3" fill="none" stroke="#151515" stroke-width="1.2"/>
<circle cx="947.9" cy="1299.5" r="3.3" fill="none" stroke="#151515" stroke-width="1.2"/>
<circle cx="942.5" cy="1298.0" r="3.3" fill="none" stroke="#151515" stroke-width="1.2"/>
<circle cx="962.9" cy="1296.9" r="3.3" fill="none" stroke="#151515" stroke-width="1.2"/>
<circle cx="952.8" cy="1294.3" r="3.3" fill="none" stroke="#151515" stroke-width="1.2"/>
<circle cx="938.6" cy="1292.6" r="3.3" fill="none" stroke="#151515" stroke-width="1.2"/>
<circle cx="957.6" cy="1290.6" r="3.3" fill="none" stroke="#151515" stroke-width="1.2"/>
<circle cx="949.0" cy="1288.8" r="3.3" fill="none" stroke="#151515" stroke-width="1.2"/>
<circle cx="943.6" cy="1287.2" r="3.3" fill="none" stroke="#151515" stroke-width="1.2"/>
<circle cx="952.8" cy="1282.6" r="3.3" fill="none" stroke="#151515" stroke-width="1.2"/>
<circle cx="958.3" cy="1282.0" r="3.3" fill="none" stroke="#151515" stroke-width="1.2"/>
<circle cx="947.4" cy="1281.2" r="3.3" fill="none" stroke="#151515" stroke-width="1.2"/>
<circle cx="963.6" cy="1279.8" r="3.3" fill="none" stroke="#151515" stroke-width="1.2"/>
<circle cx="942.1" cy="1279.3" r="3.3" fill="none" stroke="#151515" stroke-width="1.2"/>
<circle cx="969.0" cy="1278.7" r="3.3" fill="none" stroke="#151515" stroke-width="1.2"/>
<circle cx="936.6" cy="1277.8" r="3.3" fill="none" stroke="#151515" stroke-width="1.2"/>
<circle cx="974.4" cy="1277.2" r="3.3" fill="none" stroke="#151515" stroke-width="1.2"/>
<circle cx="931.2" cy="1276.4" r="3.3" fill="none" stroke="#151515" stroke-width="1.2"/>
<circle cx="979.9" cy="1276.0" r="3.3" fill="none" stroke="#151515" stroke-width="1.2"/>
<circle cx="952.8" cy="1274.9" r="3.3" fill="none" stroke="#151515" stroke-width="1.2"/>
<circle cx="957.3" cy="1270.4" r="3.3" fill="none" stroke="#151515" stroke-width="1.2"/>
<circle cx="949.6" cy="1268.7" r="3.3" fill="none" stroke="#151515" stroke-width="1.2"/>
<circle cx="944.1" cy="1267.5" r="3.3" fill="none" stroke="#151515" stroke-width="1.2"/>
<circle cx="961.9" cy="1266.2" r="3.3" fill="none" stroke="#151515" stroke-width="1.2"/>
<circle cx="939.0" cy="1264.7" r="3.3" fill="none" stroke="#151515" stroke-width="1.2"/>
<circle cx="953.9" cy="1263.9" r="3.3" fill="none" stroke="#151515" stroke-width="1.2"/>
<circle cx="966.5" cy="1262.1" r="3.3" fill="none" stroke="#151515" stroke-width="1.2"/>
<circle cx="950.0" cy="1258.5" r="3.3" fill="none" stroke="#151515" stroke-width="1.2"/>
<circle cx="956.8" cy="1257.4" r="3.3" fill="none" stroke="#151515" stroke-width="1.2"/>
<circle cx="944.8" cy="1256.0" r="3.3" fill="none" stroke="#151515" stroke-width="1.2"/>
<circle cx="962.0" cy="1254.8" r="3.3" fill="none" stroke="#151515" stroke-width="1.2"/>
<circle cx="939.6" cy="1253.3" r="3.3" fill="none" stroke="#151515" stroke-width="1.2"/>
<circle cx="952.8" cy="1251.0" r="3.3" fill="none" stroke="#151515" stroke-width="1.2"/>
<circle cx="966.3" cy="1250.1" r="3.3" fill="none" stroke="#151515" stroke-width="1.2"/>
<circle cx="952.8" cy="1241.8" r="3.3" fill="none" stroke="#151515" stroke-width="1.2"/>
<circle cx="958.1" cy="1239.6" r="3.3" fill="none" stroke="#151515" stroke-width="1.2"/>
<circle cx="947.9" cy="1238.2" r="3.3" fill="none" stroke="#151515" stroke-width="1.2"/>
<circle cx="952.8" cy="1230.3" r="3.3" fill="none" stroke="#151515" stroke-width="1.2"/>
<circle cx="952.8" cy="1222.3" r="3.3" fill="none" stroke="#151515" stroke-width="1.2"/>
<circle cx="957.6" cy="1218.7" r="3.3" fill="none" stroke="#151515" stroke-width="1.2"/>
<circle cx="952.8" cy="1212.7" r="3.3" fill="none" stroke="#151515" stroke-width="1.2"/>
<circle cx="958.1" cy="1210.8" r="3.3" fill="none" stroke="#151515" stroke-width="1.2"/>
<circle cx="947.7" cy="1209.7" r="3.3" fill="none" stroke="#151515" stroke-width="1.2"/>
<circle cx="952.8" cy="1195.6" r="3.3" fill="none" stroke="#151515" stroke-width="1.2"/>
<circle cx="952.8" cy="1178.2" r="3.3" fill="none" stroke="#151515" stroke-width="1.2"/>
<circle cx="957.9" cy="1175.2" r="3.3" fill="none" stroke="#151515" stroke-width="1.2"/>
<circle cx="950.4" cy="1171.4" r="3.3" fill="none" stroke="#151515" stroke-width="1.2"/>
<circle cx="954.4" cy="1166.1" r="3.3" fill="none" stroke="#151515" stroke-width="1.2"/>
<line x1="745.5" y1="1366.0" x2="864.4" y2="1366.0" stroke="#151515" stroke-width="7" />
<line x1="894.2" y1="1371.4" x2="1011.3" y2="1371.4" stroke="#151515" stroke-width="7" />
<text x="879.2" y="1056.8" font-size="17" text-anchor="middle" fill="#151515" stroke="#151515"  >p=0.4852</text>
<line x1="805.3" y1="1067.7" x2="952.3" y2="1067.7" stroke="#151515" stroke-width="1.8" />
<text transform="translate(607.5,1322.2) rotate(-90)" font-size="34" text-anchor="middle" fill="#151515" stroke="#151515">Pixel to Pixel Contrast</text>
<text x="804.5" y="1592.6" font-size="33" text-anchor="middle" fill="#151515" stroke="#151515" font-style="italic" >WT</text>
<g transform="translate(903.2,1592.6) skewX(-12)"><text x="0" y="0" font-size="33.7" fill="#151515" stroke="#151515">HPF1<tspan dx="0.0" dy="-10.4" font-size="26.6">KO</tspan></text></g>
</g>
<g id="panelF">
<line x1="1260.0" y1="1123.0" x2="1260.0" y2="1557.0" stroke="#151515" stroke-width="3" />
<line x1="1258.5" y1="1527.6" x2="1974.0" y2="1527.6" stroke="#151515" stroke-width="4" />
<line x1="1243.0" y1="1497.0" x2="1260.0" y2="1497.0" stroke="#151515" stroke-width="3" />
<text x="1236.0" y="1505.3" font-size="33" text-anchor="end" fill="#151515" stroke="#151515"  >1.00</text>
<line x1="1243.0" y1="1427.3" x2="1260.0" y2="1427.3" stroke="#151515" stroke-width="3" />
<text x="1236.0" y="1435.6" font-size="33" text-anchor="end" fill="#151515" stroke="#151515"  >1.05</text>
<line x1="1243.0" y1="1358.0" x2="1260.0" y2="1358.0" stroke="#151515" stroke-width="3" />
<text x="1236.0" y="1366.3" font-size="33" text-anchor="end" fill="#151515" stroke="#151515"  >1.10</text>
<line x1="1243.0" y1="1288.2" x2="1260.0" y2="1288.2" stroke="#151515" stroke-width="3" />
<text x="1236.0" y="1296.5" font-size="33" text-anchor="end" fill="#151515" stroke="#151515"  >1.15</text>
<line x1="1243.0" y1="1218.3" x2="1260.0" y2="1218.3" stroke="#151515" stroke-width="3" />
<text x="1236.0" y="1226.6" font-size="33" text-anchor="end" fill="#151515" stroke="#151515"  >1.20</text>
<line x1="1243.0" y1="1148.8" x2="1260.0" y2="1148.8" stroke="#151515" stroke-width="3" />
<text x="1236.0" y="1157.1" font-size="33" text-anchor="end" fill="#151515" stroke="#151515"  >1.25</text>
<text x="1260.0" y="1588.8" font-size="32" text-anchor="middle" fill="#151515" stroke="#151515"  >0</text>
<line x1="1378.8" y1="1527.0" x2="1378.8" y2="1557.0" stroke="#151515" stroke-width="3" />
<text x="1378.8" y="1588.8" font-size="32" text-anchor="middle" fill="#151515" stroke="#151515"  >5</text>
<line x1="1497.6" y1="1527.0" x2="1497.6" y2="1557.0" stroke="#151515" stroke-width="3" />
<text x="1497.6" y="1588.8" font-size="32" text-anchor="middle" fill="#151515" stroke="#151515"  >10</text>
<line x1="1616.4" y1="1527.0" x2="1616.4" y2="1557.0" stroke="#151515" stroke-width="3" />
<text x="1616.4" y="1588.8" font-size="32" text-anchor="middle" fill="#151515" stroke="#151515"  >15</text>
<line x1="1735.3" y1="1527.0" x2="1735.3" y2="1557.0" stroke="#151515" stroke-width="3" />
<text x="1735.3" y="1588.8" font-size="32" text-anchor="middle" fill="#151515" stroke="#151515"  >20</text>
<line x1="1854.1" y1="1527.0" x2="1854.1" y2="1557.0" stroke="#151515" stroke-width="3" />
<text x="1854.1" y="1588.8" font-size="32" text-anchor="middle" fill="#151515" stroke="#151515"  >25</text>
<text x="1972.9" y="1588.8" font-size="32" text-anchor="middle" fill="#151515" stroke="#151515"  >30</text>
<line x1="1972.6" y1="1120.2" x2="1972.6" y2="1558.0" stroke="#e8192c" stroke-width="3.2" />
<line x1="1972.6" y1="1517.8" x2="1991.5" y2="1517.8" stroke="#e8192c" stroke-width="3.2" />
<text x="2001.5" y="1526.6" font-size="32.5" text-anchor="start" fill="#e8192c" stroke="#e8192c"  >1.00</text>
<line x1="1972.6" y1="1468.3" x2="1991.5" y2="1468.3" stroke="#e8192c" stroke-width="3.2" />
<text x="2001.5" y="1477.1" font-size="32.5" text-anchor="start" fill="#e8192c" stroke="#e8192c"  >1.02</text>
<line x1="1972.6" y1="1418.8" x2="1991.5" y2="1418.8" stroke="#e8192c" stroke-width="3.2" />
<text x="2001.5" y="1427.6" font-size="32.5" text-anchor="start" fill="#e8192c" stroke="#e8192c"  >1.04</text>
<line x1="1972.6" y1="1369.3" x2="1991.5" y2="1369.3" stroke="#e8192c" stroke-width="3.2" />
<text x="2001.5" y="1378.1" font-size="32.5" text-anchor="start" fill="#e8192c" stroke="#e8192c"  >1.06</text>
<line x1="1972.6" y1="1319.8" x2="1991.5" y2="1319.8" stroke="#e8192c" stroke-width="3.2" />
<text x="2001.5" y="1328.6" font-size="32.5" text-anchor="start" fill="#e8192c" stroke="#e8192c"  >1.08</text>
<line x1="1972.6" y1="1270.3" x2="1991.5" y2="1270.3" stroke="#e8192c" stroke-width="3.2" />
<text x="2001.5" y="1279.1" font-size="32.5" text-anchor="start" fill="#e8192c" stroke="#e8192c"  >1.10</text>
<line x1="1972.6" y1="1220.8" x2="1991.5" y2="1220.8" stroke="#e8192c" stroke-width="3.2" />
<text x="2001.5" y="1229.6" font-size="32.5" text-anchor="start" fill="#e8192c" stroke="#e8192c"  >1.12</text>
<line x1="1972.6" y1="1171.3" x2="1991.5" y2="1171.3" stroke="#e8192c" stroke-width="3.2" />
<text x="2001.5" y="1180.1" font-size="32.5" text-anchor="start" fill="#e8192c" stroke="#e8192c"  >1.14</text>
<line x1="1972.6" y1="1121.8" x2="1991.5" y2="1121.8" stroke="#e8192c" stroke-width="3.2" />
<text x="2001.5" y="1130.6" font-size="32.5" text-anchor="start" fill="#e8192c" stroke="#e8192c"  >1.16</text>
<text x="1604.5" y="1635.6" font-size="33.5" text-anchor="middle" fill="#151515" stroke="#151515"  >Time post-irradiation (min)</text>
<text transform="translate(1150.8,1310.3) rotate(-90)" font-size="37" text-anchor="middle" fill="#151515" stroke="#151515">Chromatin Relaxation</text>
<text transform="translate(2094.9,1319.8) rotate(90)" font-size="37.5" text-anchor="middle" fill="#e8192c" stroke="#e8192c">HPF1 Recruitment</text>
<rect x="1596" y="1141.9" width="26" height="24.6" fill="#18181a"/>
<rect x="1596" y="1183.2" width="26" height="24.6" fill="#f0192e"/>
<text x="1636.0" y="1162.6" font-size="33.5" text-anchor="start" fill="#151515" stroke="#151515"  >Chromatin relaxation</text>
<text x="1636.0" y="1207.0" font-size="33.5" text-anchor="start" fill="#151515" stroke="#151515"  >HPF1 recruitment</text>
<polyline fill="none" stroke="#111" stroke-width="4.4" stroke-linejoin="round" stroke-linecap="butt" points="1260.0,1497.0 1271.9,1284.2 1283.8,1225.5 1295.6,1190.8 1307.5,1157.4 1319.4,1156.1 1331.3,1161.9 1343.2,1153.4 1355.1,1150.2 1366.9,1168.1 1378.8,1166.2 1390.7,1177.4 1402.6,1187.6 1414.5,1181.4 1426.3,1202.8 1438.2,1210.8 1450.1,1221.5 1462.0,1222.8 1473.9,1238.9 1485.7,1253.5 1497.6,1270.4 1509.5,1276.8 1521.4,1281.6 1533.3,1297.6 1545.2,1314.4 1557.0,1319.0 1568.9,1327.8 1580.8,1329.1 1592.7,1339.0 1604.6,1344.9 1616.4,1374.4 1628.3,1384.0 1640.2,1387.3 1652.1,1398.4 1664.0,1401.2 1675.9,1410.0 1687.7,1427.0 1699.6,1437.2 1711.5,1436.2 1723.4,1442.7 1735.3,1450.1 1747.1,1451.4 1759.0,1454.7 1770.9,1461.1 1782.8,1471.7 1794.7,1471.7 1806.5,1467.0 1818.4,1483.7 1830.3,1475.5 1842.2,1491.6 1854.1,1487.0 1866.0,1489.7 1877.8,1486.1 1889.7,1486.1 1901.6,1488.8 1913.5,1477.7 1925.4,1486.1 1937.2,1486.1 1949.1,1483.3 1961.0,1472.2"/>
<polyline fill="none" stroke="#e8192c" stroke-width="4.0" stroke-linejoin="round" stroke-linecap="butt" points="1260.0,1517.8 1271.9,1146.7 1283.8,1206.8 1295.6,1228.2 1307.5,1236.7 1319.4,1233.0 1331.3,1229.5 1343.2,1252.2 1355.1,1258.9 1366.9,1268.8 1378.8,1281.6 1390.7,1298.9 1402.6,1308.3 1414.5,1326.4 1426.3,1333.6 1438.2,1338.5 1450.1,1343.0 1462.0,1344.3 1473.9,1350.5 1485.7,1355.5 1497.6,1363.0 1509.5,1372.4 1521.4,1364.9 1533.3,1370.5 1545.2,1380.4 1557.0,1380.9 1568.9,1391.1 1580.8,1389.7 1592.7,1397.7 1604.6,1407.6 1616.4,1406.2 1628.3,1411.3 1640.2,1430.3 1652.1,1421.5 1664.0,1424.6 1675.9,1432.0 1687.7,1428.9 1699.6,1436.6 1711.5,1436.2 1723.4,1439.9 1735.3,1449.2 1747.1,1446.9 1759.0,1442.7 1770.9,1445.8 1782.8,1449.2 1794.7,1451.9 1806.5,1453.8 1818.4,1464.8 1830.3,1452.8 1842.2,1461.1 1854.1,1468.2 1866.0,1475.0 1877.8,1478.1 1889.7,1469.1 1901.6,1467.6 1913.5,1468.5 1925.4,1479.6 1937.2,1479.0 1949.1,1479.6 1961.0,1477.4"/>
<line x1="1271.9" y1="1267.7" x2="1271.9" y2="1296.8" stroke="#151515" stroke-width="2.2" />
<line x1="1266.4" y1="1267.7" x2="1277.4" y2="1267.7" stroke="#151515" stroke-width="2.2" />
<line x1="1266.4" y1="1296.8" x2="1277.4" y2="1296.8" stroke="#151515" stroke-width="2.2" />
<line x1="1295.6" y1="1174.2" x2="1295.6" y2="1206.8" stroke="#151515" stroke-width="2.2" />
<line x1="1290.1" y1="1174.2" x2="1301.1" y2="1174.2" stroke="#151515" stroke-width="2.2" />
<line x1="1290.1" y1="1206.8" x2="1301.1" y2="1206.8" stroke="#151515" stroke-width="2.2" />
<line x1="1319.4" y1="1134.2" x2="1319.4" y2="1179.6" stroke="#151515" stroke-width="2.2" />
<line x1="1313.9" y1="1134.2" x2="1324.9" y2="1134.2" stroke="#151515" stroke-width="2.2" />
<line x1="1313.9" y1="1179.6" x2="1324.9" y2="1179.6" stroke="#151515" stroke-width="2.2" />
<line x1="1343.2" y1="1131.2" x2="1343.2" y2="1176.1" stroke="#151515" stroke-width="2.2" />
<line x1="1337.7" y1="1131.2" x2="1348.7" y2="1131.2" stroke="#151515" stroke-width="2.2" />
<line x1="1337.7" y1="1176.1" x2="1348.7" y2="1176.1" stroke="#151515" stroke-width="2.2" />
<line x1="1366.9" y1="1143.5" x2="1366.9" y2="1192.1" stroke="#151515" stroke-width="2.2" />
<line x1="1361.4" y1="1143.5" x2="1372.4" y2="1143.5" stroke="#151515" stroke-width="2.2" />
<line x1="1361.4" y1="1192.1" x2="1372.4" y2="1192.1" stroke="#151515" stroke-width="2.2" />
<line x1="1390.7" y1="1149.4" x2="1390.7" y2="1205.5" stroke="#151515" stroke-width="2.2" />
<line x1="1385.2" y1="1149.4" x2="1396.2" y2="1149.4" stroke="#151515" stroke-width="2.2" />
<line x1="1385.2" y1="1205.5" x2="1396.2" y2="1205.5" stroke="#151515" stroke-width="2.2" />
<line x1="1414.5" y1="1151.3" x2="1414.5" y2="1210.0" stroke="#151515" stroke-width="2.2" />
<line x1="1409.0" y1="1151.3" x2="1420.0" y2="1151.3" stroke="#151515" stroke-width="2.2" />
<line x1="1409.0" y1="1210.0" x2="1420.0" y2="1210.0" stroke="#151515" stroke-width="2.2" />
<line x1="1438.2" y1="1184.9" x2="1438.2" y2="1237.5" stroke="#151515" stroke-width="2.2" />
<line x1="1432.7" y1="1184.9" x2="1443.7" y2="1184.9" stroke="#151515" stroke-width="2.2" />
<line x1="1432.7" y1="1237.5" x2="1443.7" y2="1237.5" stroke="#151515" stroke-width="2.2" />
<line x1="1462.0" y1="1194.3" x2="1462.0" y2="1250.9" stroke="#151515" stroke-width="2.2" />
<line x1="1456.5" y1="1194.3" x2="1467.5" y2="1194.3" stroke="#151515" stroke-width="2.2" />
<line x1="1456.5" y1="1250.9" x2="1467.5" y2="1250.9" stroke="#151515" stroke-width="2.2" />
<line x1="1485.7" y1="1226.0" x2="1485.7" y2="1282.9" stroke="#151515" stroke-width="2.2" />
<line x1="1480.2" y1="1226.0" x2="1491.2" y2="1226.0" stroke="#151515" stroke-width="2.2" />
<line x1="1480.2" y1="1282.9" x2="1491.2" y2="1282.9" stroke="#151515" stroke-width="2.2" />
<line x1="1509.5" y1="1246.1" x2="1509.5" y2="1308.3" stroke="#151515" stroke-width="2.2" />
<line x1="1504.0" y1="1246.1" x2="1515.0" y2="1246.1" stroke="#151515" stroke-width="2.2" />
<line x1="1504.0" y1="1308.3" x2="1515.0" y2="1308.3" stroke="#151515" stroke-width="2.2" />
<line x1="1533.3" y1="1268.2" x2="1533.3" y2="1329.1" stroke="#151515" stroke-width="2.2" />
<line x1="1527.8" y1="1268.2" x2="1538.8" y2="1268.2" stroke="#151515" stroke-width="2.2" />
<line x1="1527.8" y1="1329.1" x2="1538.8" y2="1329.1" stroke="#151515" stroke-width="2.2" />
<line x1="1557.0" y1="1287.7" x2="1557.0" y2="1349.9" stroke="#151515" stroke-width="2.2" />
<line x1="1551.5" y1="1287.7" x2="1562.5" y2="1287.7" stroke="#151515" stroke-width="2.2" />
<line x1="1551.5" y1="1349.9" x2="1562.5" y2="1349.9" stroke="#151515" stroke-width="2.2" />
<line x1="1580.8" y1="1300.8" x2="1580.8" y2="1358.5" stroke="#151515" stroke-width="2.2" />
<line x1="1575.3" y1="1300.8" x2="1586.3" y2="1300.8" stroke="#151515" stroke-width="2.2" />
<line x1="1575.3" y1="1358.5" x2="1586.3" y2="1358.5" stroke="#151515" stroke-width="2.2" />
<line x1="1271.9" y1="1124.6" x2="1271.9" y2="1171.6" stroke="#151515" stroke-width="2.2" />
<line x1="1266.4" y1="1124.6" x2="1277.4" y2="1124.6" stroke="#151515" stroke-width="2.2" />
<line x1="1266.4" y1="1171.6" x2="1277.4" y2="1171.6" stroke="#151515" stroke-width="2.2" />
<line x1="1295.6" y1="1212.1" x2="1295.6" y2="1248.2" stroke="#151515" stroke-width="2.2" />
<line x1="1290.1" y1="1212.1" x2="1301.1" y2="1212.1" stroke="#151515" stroke-width="2.2" />
<line x1="1290.1" y1="1248.2" x2="1301.1" y2="1248.2" stroke="#151515" stroke-width="2.2" />
<line x1="1319.4" y1="1215.4" x2="1319.4" y2="1250.9" stroke="#151515" stroke-width="2.2" />
<line x1="1313.9" y1="1215.4" x2="1324.9" y2="1215.4" stroke="#151515" stroke-width="2.2" />
<line x1="1313.9" y1="1250.9" x2="1324.9" y2="1250.9" stroke="#151515" stroke-width="2.2" />
<line x1="1343.2" y1="1231.4" x2="1343.2" y2="1273.0" stroke="#151515" stroke-width="2.2" />
<line x1="1337.7" y1="1231.4" x2="1348.7" y2="1231.4" stroke="#151515" stroke-width="2.2" />
<line x1="1337.7" y1="1273.0" x2="1348.7" y2="1273.0" stroke="#151515" stroke-width="2.2" />
<line x1="1366.9" y1="1247.4" x2="1366.9" y2="1291.2" stroke="#151515" stroke-width="2.2" />
<line x1="1361.4" y1="1247.4" x2="1372.4" y2="1247.4" stroke="#151515" stroke-width="2.2" />
<line x1="1361.4" y1="1291.2" x2="1372.4" y2="1291.2" stroke="#151515" stroke-width="2.2" />
<line x1="1390.7" y1="1278.9" x2="1390.7" y2="1320.6" stroke="#151515" stroke-width="2.2" />
<line x1="1385.2" y1="1278.9" x2="1396.2" y2="1278.9" stroke="#151515" stroke-width="2.2" />
<line x1="1385.2" y1="1320.6" x2="1396.2" y2="1320.6" stroke="#151515" stroke-width="2.2" />
<line x1="1414.5" y1="1306.1" x2="1414.5" y2="1346.2" stroke="#151515" stroke-width="2.2" />
<line x1="1409.0" y1="1306.1" x2="1420.0" y2="1306.1" stroke="#151515" stroke-width="2.2" />
<line x1="1409.0" y1="1346.2" x2="1420.0" y2="1346.2" stroke="#151515" stroke-width="2.2" />
<line x1="1438.2" y1="1318.4" x2="1438.2" y2="1357.7" stroke="#151515" stroke-width="2.2" />
<line x1="1432.7" y1="1318.4" x2="1443.7" y2="1318.4" stroke="#151515" stroke-width="2.2" />
<line x1="1432.7" y1="1357.7" x2="1443.7" y2="1357.7" stroke="#151515" stroke-width="2.2" />
<line x1="1462.0" y1="1327.0" x2="1462.0" y2="1362.2" stroke="#151515" stroke-width="2.2" />
<line x1="1456.5" y1="1327.0" x2="1467.5" y2="1327.0" stroke="#151515" stroke-width="2.2" />
<line x1="1456.5" y1="1362.2" x2="1467.5" y2="1362.2" stroke="#151515" stroke-width="2.2" />
<line x1="1485.7" y1="1337.7" x2="1485.7" y2="1374.5" stroke="#151515" stroke-width="2.2" />
<line x1="1480.2" y1="1337.7" x2="1491.2" y2="1337.7" stroke="#151515" stroke-width="2.2" />
<line x1="1480.2" y1="1374.5" x2="1491.2" y2="1374.5" stroke="#151515" stroke-width="2.2" />
<line x1="1509.5" y1="1353.7" x2="1509.5" y2="1392.9" stroke="#151515" stroke-width="2.2" />
<line x1="1504.0" y1="1353.7" x2="1515.0" y2="1353.7" stroke="#151515" stroke-width="2.2" />
<line x1="1504.0" y1="1392.9" x2="1515.0" y2="1392.9" stroke="#151515" stroke-width="2.2" />
<line x1="1533.3" y1="1352.3" x2="1533.3" y2="1389.2" stroke="#151515" stroke-width="2.2" />
<line x1="1527.8" y1="1352.3" x2="1538.8" y2="1352.3" stroke="#151515" stroke-width="2.2" />
<line x1="1527.8" y1="1389.2" x2="1538.8" y2="1389.2" stroke="#151515" stroke-width="2.2" />
<line x1="1557.0" y1="1367.0" x2="1557.0" y2="1396.4" stroke="#151515" stroke-width="2.2" />
<line x1="1551.5" y1="1367.0" x2="1562.5" y2="1367.0" stroke="#151515" stroke-width="2.2" />
<line x1="1551.5" y1="1396.4" x2="1562.5" y2="1396.4" stroke="#151515" stroke-width="2.2" />
<line x1="1580.8" y1="1374.5" x2="1580.8" y2="1406.5" stroke="#151515" stroke-width="2.2" />
<line x1="1575.3" y1="1374.5" x2="1586.3" y2="1374.5" stroke="#151515" stroke-width="2.2" />
<line x1="1575.3" y1="1406.5" x2="1586.3" y2="1406.5" stroke="#151515" stroke-width="2.2" />
<line x1="1604.6" y1="1316.9" x2="1604.6" y2="1376.8" stroke="#151515" stroke-width="2.2" />
<line x1="1599.1" y1="1316.9" x2="1610.1" y2="1316.9" stroke="#151515" stroke-width="2.2" />
<line x1="1599.1" y1="1376.8" x2="1610.1" y2="1376.8" stroke="#151515" stroke-width="2.2" />
<line x1="1628.3" y1="1357.8" x2="1628.3" y2="1413.2" stroke="#151515" stroke-width="2.2" />
<line x1="1622.8" y1="1357.8" x2="1633.8" y2="1357.8" stroke="#151515" stroke-width="2.2" />
<line x1="1622.8" y1="1413.2" x2="1633.8" y2="1413.2" stroke="#151515" stroke-width="2.2" />
<line x1="1652.1" y1="1372.0" x2="1652.1" y2="1425.2" stroke="#151515" stroke-width="2.2" />
<line x1="1646.6" y1="1372.0" x2="1657.6" y2="1372.0" stroke="#151515" stroke-width="2.2" />
<line x1="1646.6" y1="1425.2" x2="1657.6" y2="1425.2" stroke="#151515" stroke-width="2.2" />
<line x1="1675.9" y1="1384.6" x2="1675.9" y2="1435.3" stroke="#151515" stroke-width="2.2" />
<line x1="1670.4" y1="1384.6" x2="1681.4" y2="1384.6" stroke="#151515" stroke-width="2.2" />
<line x1="1670.4" y1="1435.3" x2="1681.4" y2="1435.3" stroke="#151515" stroke-width="2.2" />
<line x1="1699.6" y1="1412.3" x2="1699.6" y2="1462.4" stroke="#151515" stroke-width="2.2" />
<line x1="1694.1" y1="1412.3" x2="1705.1" y2="1412.3" stroke="#151515" stroke-width="2.2" />
<line x1="1694.1" y1="1462.4" x2="1705.1" y2="1462.4" stroke="#151515" stroke-width="2.2" />
<line x1="1723.4" y1="1418.7" x2="1723.4" y2="1465.2" stroke="#151515" stroke-width="2.2" />
<line x1="1717.9" y1="1418.7" x2="1728.9" y2="1418.7" stroke="#151515" stroke-width="2.2" />
<line x1="1717.9" y1="1465.2" x2="1728.9" y2="1465.2" stroke="#151515" stroke-width="2.2" />
<line x1="1747.1" y1="1432.9" x2="1747.1" y2="1472.2" stroke="#151515" stroke-width="2.2" />
<line x1="1741.6" y1="1432.9" x2="1752.6" y2="1432.9" stroke="#151515" stroke-width="2.2" />
<line x1="1741.6" y1="1472.2" x2="1752.6" y2="1472.2" stroke="#151515" stroke-width="2.2" />
<line x1="1770.9" y1="1439.9" x2="1770.9" y2="1482.4" stroke="#151515" stroke-width="2.2" />
<line x1="1765.4" y1="1439.9" x2="1776.4" y2="1439.9" stroke="#151515" stroke-width="2.2" />
<line x1="1765.4" y1="1482.4" x2="1776.4" y2="1482.4" stroke="#151515" stroke-width="2.2" />
<line x1="1794.7" y1="1453.8" x2="1794.7" y2="1489.2" stroke="#151515" stroke-width="2.2" />
<line x1="1789.2" y1="1453.8" x2="1800.2" y2="1453.8" stroke="#151515" stroke-width="2.2" />
<line x1="1789.2" y1="1489.2" x2="1800.2" y2="1489.2" stroke="#151515" stroke-width="2.2" />
<line x1="1818.4" y1="1467.0" x2="1818.4" y2="1502.3" stroke="#151515" stroke-width="2.2" />
<line x1="1812.9" y1="1467.0" x2="1823.9" y2="1467.0" stroke="#151515" stroke-width="2.2" />
<line x1="1812.9" y1="1502.3" x2="1823.9" y2="1502.3" stroke="#151515" stroke-width="2.2" />
<line x1="1842.2" y1="1469.4" x2="1842.2" y2="1511.5" stroke="#151515" stroke-width="2.2" />
<line x1="1836.7" y1="1469.4" x2="1847.7" y2="1469.4" stroke="#151515" stroke-width="2.2" />
<line x1="1836.7" y1="1511.5" x2="1847.7" y2="1511.5" stroke="#151515" stroke-width="2.2" />
<line x1="1866.0" y1="1472.2" x2="1866.0" y2="1508.7" stroke="#151515" stroke-width="2.2" />
<line x1="1860.5" y1="1472.2" x2="1871.5" y2="1472.2" stroke="#151515" stroke-width="2.2" />
<line x1="1860.5" y1="1508.7" x2="1871.5" y2="1508.7" stroke="#151515" stroke-width="2.2" />
<line x1="1889.7" y1="1469.4" x2="1889.7" y2="1502.7" stroke="#151515" stroke-width="2.2" />
<line x1="1884.2" y1="1469.4" x2="1895.2" y2="1469.4" stroke="#151515" stroke-width="2.2" />
<line x1="1884.2" y1="1502.7" x2="1895.2" y2="1502.7" stroke="#151515" stroke-width="2.2" />
<line x1="1913.5" y1="1457.5" x2="1913.5" y2="1498.0" stroke="#151515" stroke-width="2.2" />
<line x1="1908.0" y1="1457.5" x2="1919.0" y2="1457.5" stroke="#151515" stroke-width="2.2" />
<line x1="1908.0" y1="1498.0" x2="1919.0" y2="1498.0" stroke="#151515" stroke-width="2.2" />
<line x1="1937.2" y1="1467.6" x2="1937.2" y2="1506.3" stroke="#151515" stroke-width="2.2" />
<line x1="1931.7" y1="1467.6" x2="1942.7" y2="1467.6" stroke="#151515" stroke-width="2.2" />
<line x1="1931.7" y1="1506.3" x2="1942.7" y2="1506.3" stroke="#151515" stroke-width="2.2" />
<line x1="1961.0" y1="1450.4" x2="1961.0" y2="1496.8" stroke="#151515" stroke-width="2.2" />
<line x1="1955.5" y1="1450.4" x2="1966.5" y2="1450.4" stroke="#151515" stroke-width="2.2" />
<line x1="1955.5" y1="1496.8" x2="1966.5" y2="1496.8" stroke="#151515" stroke-width="2.2" />
<line x1="1604.6" y1="1393.4" x2="1604.6" y2="1424.2" stroke="#151515" stroke-width="2.2" />
<line x1="1599.1" y1="1393.4" x2="1610.1" y2="1393.4" stroke="#151515" stroke-width="2.2" />
<line x1="1599.1" y1="1424.2" x2="1610.1" y2="1424.2" stroke="#151515" stroke-width="2.2" />
<line x1="1628.3" y1="1394.7" x2="1628.3" y2="1427.9" stroke="#151515" stroke-width="2.2" />
<line x1="1622.8" y1="1394.7" x2="1633.8" y2="1394.7" stroke="#151515" stroke-width="2.2" />
<line x1="1622.8" y1="1427.9" x2="1633.8" y2="1427.9" stroke="#151515" stroke-width="2.2" />
<line x1="1652.1" y1="1406.7" x2="1652.1" y2="1436.6" stroke="#151515" stroke-width="2.2" />
<line x1="1646.6" y1="1406.7" x2="1657.6" y2="1406.7" stroke="#151515" stroke-width="2.2" />
<line x1="1646.6" y1="1436.6" x2="1657.6" y2="1436.6" stroke="#151515" stroke-width="2.2" />
<line x1="1675.9" y1="1419.6" x2="1675.9" y2="1446.4" stroke="#151515" stroke-width="2.2" />
<line x1="1670.4" y1="1419.6" x2="1681.4" y2="1419.6" stroke="#151515" stroke-width="2.2" />
<line x1="1670.4" y1="1446.4" x2="1681.4" y2="1446.4" stroke="#151515" stroke-width="2.2" />
<line x1="1699.6" y1="1421.5" x2="1699.6" y2="1451.9" stroke="#151515" stroke-width="2.2" />
<line x1="1694.1" y1="1421.5" x2="1705.1" y2="1421.5" stroke="#151515" stroke-width="2.2" />
<line x1="1694.1" y1="1451.9" x2="1705.1" y2="1451.9" stroke="#151515" stroke-width="2.2" />
<line x1="1723.4" y1="1425.5" x2="1723.4" y2="1455.6" stroke="#151515" stroke-width="2.2" />
<line x1="1717.9" y1="1425.5" x2="1728.9" y2="1425.5" stroke="#151515" stroke-width="2.2" />
<line x1="1717.9" y1="1455.6" x2="1728.9" y2="1455.6" stroke="#151515" stroke-width="2.2" />
<line x1="1747.1" y1="1432.9" x2="1747.1" y2="1461.1" stroke="#151515" stroke-width="2.2" />
<line x1="1741.6" y1="1432.9" x2="1752.6" y2="1432.9" stroke="#151515" stroke-width="2.2" />
<line x1="1741.6" y1="1461.1" x2="1752.6" y2="1461.1" stroke="#151515" stroke-width="2.2" />
<line x1="1770.9" y1="1430.1" x2="1770.9" y2="1461.1" stroke="#151515" stroke-width="2.2" />
<line x1="1765.4" y1="1430.1" x2="1776.4" y2="1430.1" stroke="#151515" stroke-width="2.2" />
<line x1="1765.4" y1="1461.1" x2="1776.4" y2="1461.1" stroke="#151515" stroke-width="2.2" />
<line x1="1794.7" y1="1434.8" x2="1794.7" y2="1469.4" stroke="#151515" stroke-width="2.2" />
<line x1="1789.2" y1="1434.8" x2="1800.2" y2="1434.8" stroke="#151515" stroke-width="2.2" />
<line x1="1789.2" y1="1469.4" x2="1800.2" y2="1469.4" stroke="#151515" stroke-width="2.2" />
<line x1="1818.4" y1="1447.9" x2="1818.4" y2="1482.4" stroke="#151515" stroke-width="2.2" />
<line x1="1812.9" y1="1447.9" x2="1823.9" y2="1447.9" stroke="#151515" stroke-width="2.2" />
<line x1="1812.9" y1="1482.4" x2="1823.9" y2="1482.4" stroke="#151515" stroke-width="2.2" />
<line x1="1842.2" y1="1440.8" x2="1842.2" y2="1483.3" stroke="#151515" stroke-width="2.2" />
<line x1="1836.7" y1="1440.8" x2="1847.7" y2="1440.8" stroke="#151515" stroke-width="2.2" />
<line x1="1836.7" y1="1483.3" x2="1847.7" y2="1483.3" stroke="#151515" stroke-width="2.2" />
<line x1="1866.0" y1="1453.8" x2="1866.0" y2="1495.3" stroke="#151515" stroke-width="2.2" />
<line x1="1860.5" y1="1453.8" x2="1871.5" y2="1453.8" stroke="#151515" stroke-width="2.2" />
<line x1="1860.5" y1="1495.3" x2="1871.5" y2="1495.3" stroke="#151515" stroke-width="2.2" />
<line x1="1889.7" y1="1452.8" x2="1889.7" y2="1486.1" stroke="#151515" stroke-width="2.2" />
<line x1="1884.2" y1="1452.8" x2="1895.2" y2="1452.8" stroke="#151515" stroke-width="2.2" />
<line x1="1884.2" y1="1486.1" x2="1895.2" y2="1486.1" stroke="#151515" stroke-width="2.2" />
<line x1="1913.5" y1="1449.2" x2="1913.5" y2="1488.8" stroke="#151515" stroke-width="2.2" />
<line x1="1908.0" y1="1449.2" x2="1919.0" y2="1449.2" stroke="#151515" stroke-width="2.2" />
<line x1="1908.0" y1="1488.8" x2="1919.0" y2="1488.8" stroke="#151515" stroke-width="2.2" />
<line x1="1937.2" y1="1458.7" x2="1937.2" y2="1499.0" stroke="#151515" stroke-width="2.2" />
<line x1="1931.7" y1="1458.7" x2="1942.7" y2="1458.7" stroke="#151515" stroke-width="2.2" />
<line x1="1931.7" y1="1499.0" x2="1942.7" y2="1499.0" stroke="#151515" stroke-width="2.2" />
<line x1="1961.0" y1="1458.0" x2="1961.0" y2="1496.8" stroke="#151515" stroke-width="2.2" />
<line x1="1955.5" y1="1458.0" x2="1966.5" y2="1458.0" stroke="#151515" stroke-width="2.2" />
<line x1="1955.5" y1="1496.8" x2="1966.5" y2="1496.8" stroke="#151515" stroke-width="2.2" />
<line x1="1260.0" y1="1497.0" x2="1260.0" y2="1518.0" stroke="#151515" stroke-width="1.9" />
<line x1="1256.0" y1="1497.0" x2="1264.0" y2="1497.0" stroke="#151515" stroke-width="1.9" />
<line x1="1256.0" y1="1518.0" x2="1264.0" y2="1518.0" stroke="#151515" stroke-width="1.9" />
</g>
</svg></body></html>
